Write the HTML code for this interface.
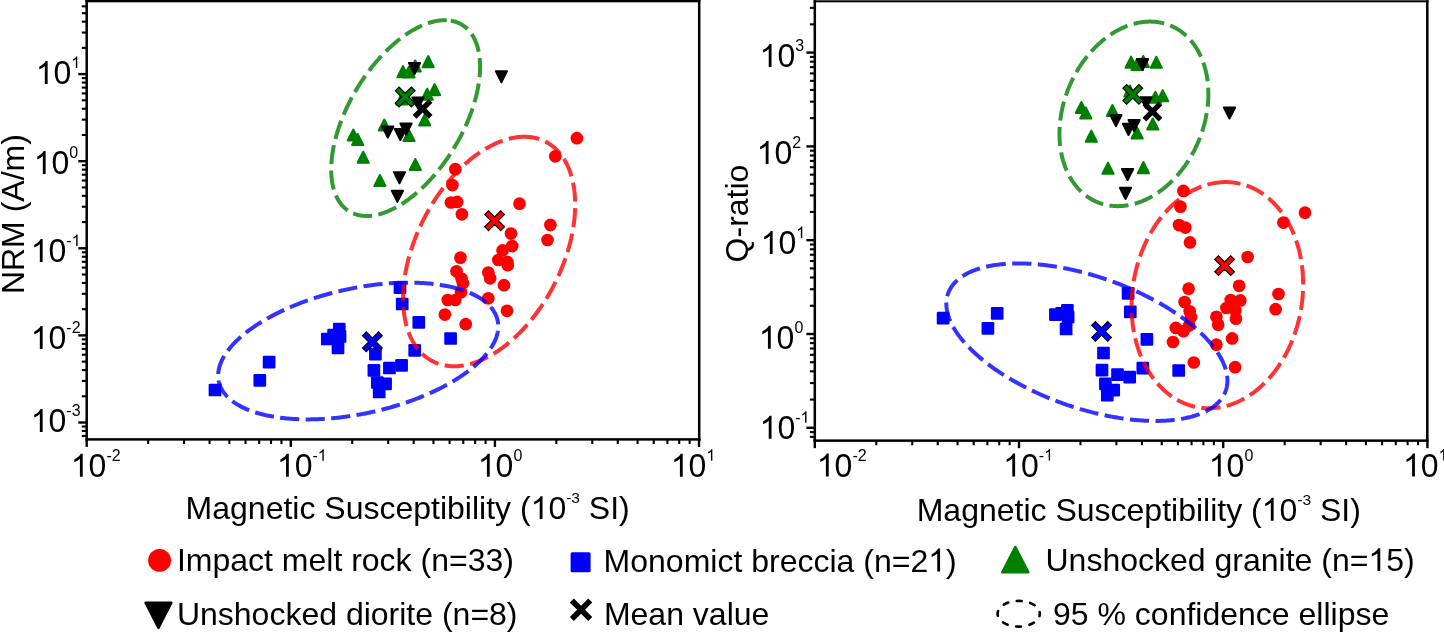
<!DOCTYPE html>
<html><head><meta charset="utf-8"><title>Magnetic susceptibility vs NRM and Q-ratio</title>
<style>html,body{margin:0;padding:0;background:#fff;overflow:hidden;}svg{display:block;will-change:transform;}
text{font-family:"Liberation Sans",sans-serif;fill:#000;font-kerning:none;white-space:pre;}</style>
</head><body>
<svg width="1444" height="632" viewBox="0 0 1444 632">
<rect width="1444" height="632" fill="#fff"/>
<line x1="81.80" y1="435.99" x2="86.70" y2="435.99" stroke="#000" stroke-width="2.1"/>
<line x1="81.80" y1="430.94" x2="86.70" y2="430.94" stroke="#000" stroke-width="2.1"/>
<line x1="81.80" y1="426.49" x2="86.70" y2="426.49" stroke="#000" stroke-width="2.1"/>
<line x1="78.30" y1="422.50" x2="86.70" y2="422.50" stroke="#000" stroke-width="2.4"/>
<line x1="81.80" y1="396.28" x2="86.70" y2="396.28" stroke="#000" stroke-width="2.1"/>
<line x1="81.80" y1="380.94" x2="86.70" y2="380.94" stroke="#000" stroke-width="2.1"/>
<line x1="81.80" y1="370.06" x2="86.70" y2="370.06" stroke="#000" stroke-width="2.1"/>
<line x1="81.80" y1="361.62" x2="86.70" y2="361.62" stroke="#000" stroke-width="2.1"/>
<line x1="81.80" y1="354.72" x2="86.70" y2="354.72" stroke="#000" stroke-width="2.1"/>
<line x1="81.80" y1="348.89" x2="86.70" y2="348.89" stroke="#000" stroke-width="2.1"/>
<line x1="81.80" y1="343.84" x2="86.70" y2="343.84" stroke="#000" stroke-width="2.1"/>
<line x1="81.80" y1="339.39" x2="86.70" y2="339.39" stroke="#000" stroke-width="2.1"/>
<line x1="78.30" y1="335.40" x2="86.70" y2="335.40" stroke="#000" stroke-width="2.4"/>
<line x1="81.80" y1="309.18" x2="86.70" y2="309.18" stroke="#000" stroke-width="2.1"/>
<line x1="81.80" y1="293.84" x2="86.70" y2="293.84" stroke="#000" stroke-width="2.1"/>
<line x1="81.80" y1="282.96" x2="86.70" y2="282.96" stroke="#000" stroke-width="2.1"/>
<line x1="81.80" y1="274.52" x2="86.70" y2="274.52" stroke="#000" stroke-width="2.1"/>
<line x1="81.80" y1="267.62" x2="86.70" y2="267.62" stroke="#000" stroke-width="2.1"/>
<line x1="81.80" y1="261.79" x2="86.70" y2="261.79" stroke="#000" stroke-width="2.1"/>
<line x1="81.80" y1="256.74" x2="86.70" y2="256.74" stroke="#000" stroke-width="2.1"/>
<line x1="81.80" y1="252.29" x2="86.70" y2="252.29" stroke="#000" stroke-width="2.1"/>
<line x1="78.30" y1="248.30" x2="86.70" y2="248.30" stroke="#000" stroke-width="2.4"/>
<line x1="81.80" y1="222.08" x2="86.70" y2="222.08" stroke="#000" stroke-width="2.1"/>
<line x1="81.80" y1="206.74" x2="86.70" y2="206.74" stroke="#000" stroke-width="2.1"/>
<line x1="81.80" y1="195.86" x2="86.70" y2="195.86" stroke="#000" stroke-width="2.1"/>
<line x1="81.80" y1="187.42" x2="86.70" y2="187.42" stroke="#000" stroke-width="2.1"/>
<line x1="81.80" y1="180.52" x2="86.70" y2="180.52" stroke="#000" stroke-width="2.1"/>
<line x1="81.80" y1="174.69" x2="86.70" y2="174.69" stroke="#000" stroke-width="2.1"/>
<line x1="81.80" y1="169.64" x2="86.70" y2="169.64" stroke="#000" stroke-width="2.1"/>
<line x1="81.80" y1="165.19" x2="86.70" y2="165.19" stroke="#000" stroke-width="2.1"/>
<line x1="78.30" y1="161.20" x2="86.70" y2="161.20" stroke="#000" stroke-width="2.4"/>
<line x1="81.80" y1="134.98" x2="86.70" y2="134.98" stroke="#000" stroke-width="2.1"/>
<line x1="81.80" y1="119.64" x2="86.70" y2="119.64" stroke="#000" stroke-width="2.1"/>
<line x1="81.80" y1="108.76" x2="86.70" y2="108.76" stroke="#000" stroke-width="2.1"/>
<line x1="81.80" y1="100.32" x2="86.70" y2="100.32" stroke="#000" stroke-width="2.1"/>
<line x1="81.80" y1="93.42" x2="86.70" y2="93.42" stroke="#000" stroke-width="2.1"/>
<line x1="81.80" y1="87.59" x2="86.70" y2="87.59" stroke="#000" stroke-width="2.1"/>
<line x1="81.80" y1="82.54" x2="86.70" y2="82.54" stroke="#000" stroke-width="2.1"/>
<line x1="81.80" y1="78.09" x2="86.70" y2="78.09" stroke="#000" stroke-width="2.1"/>
<line x1="78.30" y1="74.10" x2="86.70" y2="74.10" stroke="#000" stroke-width="2.4"/>
<line x1="81.80" y1="47.88" x2="86.70" y2="47.88" stroke="#000" stroke-width="2.1"/>
<line x1="81.80" y1="32.54" x2="86.70" y2="32.54" stroke="#000" stroke-width="2.1"/>
<line x1="81.80" y1="21.66" x2="86.70" y2="21.66" stroke="#000" stroke-width="2.1"/>
<line x1="81.80" y1="13.22" x2="86.70" y2="13.22" stroke="#000" stroke-width="2.1"/>
<line x1="81.80" y1="6.32" x2="86.70" y2="6.32" stroke="#000" stroke-width="2.1"/>
<line x1="86.70" y1="439.40" x2="86.70" y2="446.90" stroke="#000" stroke-width="2.4"/>
<line x1="148.14" y1="439.40" x2="148.14" y2="444.00" stroke="#000" stroke-width="2.1"/>
<line x1="184.08" y1="439.40" x2="184.08" y2="444.00" stroke="#000" stroke-width="2.1"/>
<line x1="209.58" y1="439.40" x2="209.58" y2="444.00" stroke="#000" stroke-width="2.1"/>
<line x1="229.36" y1="439.40" x2="229.36" y2="444.00" stroke="#000" stroke-width="2.1"/>
<line x1="245.52" y1="439.40" x2="245.52" y2="444.00" stroke="#000" stroke-width="2.1"/>
<line x1="259.18" y1="439.40" x2="259.18" y2="444.00" stroke="#000" stroke-width="2.1"/>
<line x1="271.02" y1="439.40" x2="271.02" y2="444.00" stroke="#000" stroke-width="2.1"/>
<line x1="281.46" y1="439.40" x2="281.46" y2="444.00" stroke="#000" stroke-width="2.1"/>
<line x1="290.80" y1="439.40" x2="290.80" y2="446.90" stroke="#000" stroke-width="2.4"/>
<line x1="352.24" y1="439.40" x2="352.24" y2="444.00" stroke="#000" stroke-width="2.1"/>
<line x1="388.18" y1="439.40" x2="388.18" y2="444.00" stroke="#000" stroke-width="2.1"/>
<line x1="413.68" y1="439.40" x2="413.68" y2="444.00" stroke="#000" stroke-width="2.1"/>
<line x1="433.46" y1="439.40" x2="433.46" y2="444.00" stroke="#000" stroke-width="2.1"/>
<line x1="449.62" y1="439.40" x2="449.62" y2="444.00" stroke="#000" stroke-width="2.1"/>
<line x1="463.28" y1="439.40" x2="463.28" y2="444.00" stroke="#000" stroke-width="2.1"/>
<line x1="475.12" y1="439.40" x2="475.12" y2="444.00" stroke="#000" stroke-width="2.1"/>
<line x1="485.56" y1="439.40" x2="485.56" y2="444.00" stroke="#000" stroke-width="2.1"/>
<line x1="494.90" y1="439.40" x2="494.90" y2="446.90" stroke="#000" stroke-width="2.4"/>
<line x1="556.34" y1="439.40" x2="556.34" y2="444.00" stroke="#000" stroke-width="2.1"/>
<line x1="592.28" y1="439.40" x2="592.28" y2="444.00" stroke="#000" stroke-width="2.1"/>
<line x1="617.78" y1="439.40" x2="617.78" y2="444.00" stroke="#000" stroke-width="2.1"/>
<line x1="637.56" y1="439.40" x2="637.56" y2="444.00" stroke="#000" stroke-width="2.1"/>
<line x1="653.72" y1="439.40" x2="653.72" y2="444.00" stroke="#000" stroke-width="2.1"/>
<line x1="667.38" y1="439.40" x2="667.38" y2="444.00" stroke="#000" stroke-width="2.1"/>
<line x1="679.22" y1="439.40" x2="679.22" y2="444.00" stroke="#000" stroke-width="2.1"/>
<line x1="689.66" y1="439.40" x2="689.66" y2="444.00" stroke="#000" stroke-width="2.1"/>
<line x1="699.00" y1="439.40" x2="699.00" y2="446.90" stroke="#000" stroke-width="2.4"/>
<line x1="809.90" y1="436.89" x2="814.80" y2="436.89" stroke="#000" stroke-width="2.1"/>
<line x1="809.90" y1="432.09" x2="814.80" y2="432.09" stroke="#000" stroke-width="2.1"/>
<line x1="806.40" y1="427.80" x2="814.80" y2="427.80" stroke="#000" stroke-width="2.4"/>
<line x1="809.90" y1="399.56" x2="814.80" y2="399.56" stroke="#000" stroke-width="2.1"/>
<line x1="809.90" y1="383.05" x2="814.80" y2="383.05" stroke="#000" stroke-width="2.1"/>
<line x1="809.90" y1="371.33" x2="814.80" y2="371.33" stroke="#000" stroke-width="2.1"/>
<line x1="809.90" y1="362.24" x2="814.80" y2="362.24" stroke="#000" stroke-width="2.1"/>
<line x1="809.90" y1="354.81" x2="814.80" y2="354.81" stroke="#000" stroke-width="2.1"/>
<line x1="809.90" y1="348.53" x2="814.80" y2="348.53" stroke="#000" stroke-width="2.1"/>
<line x1="809.90" y1="343.09" x2="814.80" y2="343.09" stroke="#000" stroke-width="2.1"/>
<line x1="809.90" y1="338.29" x2="814.80" y2="338.29" stroke="#000" stroke-width="2.1"/>
<line x1="806.40" y1="334.00" x2="814.80" y2="334.00" stroke="#000" stroke-width="2.4"/>
<line x1="809.90" y1="305.76" x2="814.80" y2="305.76" stroke="#000" stroke-width="2.1"/>
<line x1="809.90" y1="289.25" x2="814.80" y2="289.25" stroke="#000" stroke-width="2.1"/>
<line x1="809.90" y1="277.53" x2="814.80" y2="277.53" stroke="#000" stroke-width="2.1"/>
<line x1="809.90" y1="268.44" x2="814.80" y2="268.44" stroke="#000" stroke-width="2.1"/>
<line x1="809.90" y1="261.01" x2="814.80" y2="261.01" stroke="#000" stroke-width="2.1"/>
<line x1="809.90" y1="254.73" x2="814.80" y2="254.73" stroke="#000" stroke-width="2.1"/>
<line x1="809.90" y1="249.29" x2="814.80" y2="249.29" stroke="#000" stroke-width="2.1"/>
<line x1="809.90" y1="244.49" x2="814.80" y2="244.49" stroke="#000" stroke-width="2.1"/>
<line x1="806.40" y1="240.20" x2="814.80" y2="240.20" stroke="#000" stroke-width="2.4"/>
<line x1="809.90" y1="211.96" x2="814.80" y2="211.96" stroke="#000" stroke-width="2.1"/>
<line x1="809.90" y1="195.45" x2="814.80" y2="195.45" stroke="#000" stroke-width="2.1"/>
<line x1="809.90" y1="183.73" x2="814.80" y2="183.73" stroke="#000" stroke-width="2.1"/>
<line x1="809.90" y1="174.64" x2="814.80" y2="174.64" stroke="#000" stroke-width="2.1"/>
<line x1="809.90" y1="167.21" x2="814.80" y2="167.21" stroke="#000" stroke-width="2.1"/>
<line x1="809.90" y1="160.93" x2="814.80" y2="160.93" stroke="#000" stroke-width="2.1"/>
<line x1="809.90" y1="155.49" x2="814.80" y2="155.49" stroke="#000" stroke-width="2.1"/>
<line x1="809.90" y1="150.69" x2="814.80" y2="150.69" stroke="#000" stroke-width="2.1"/>
<line x1="806.40" y1="146.40" x2="814.80" y2="146.40" stroke="#000" stroke-width="2.4"/>
<line x1="809.90" y1="118.16" x2="814.80" y2="118.16" stroke="#000" stroke-width="2.1"/>
<line x1="809.90" y1="101.65" x2="814.80" y2="101.65" stroke="#000" stroke-width="2.1"/>
<line x1="809.90" y1="89.93" x2="814.80" y2="89.93" stroke="#000" stroke-width="2.1"/>
<line x1="809.90" y1="80.84" x2="814.80" y2="80.84" stroke="#000" stroke-width="2.1"/>
<line x1="809.90" y1="73.41" x2="814.80" y2="73.41" stroke="#000" stroke-width="2.1"/>
<line x1="809.90" y1="67.13" x2="814.80" y2="67.13" stroke="#000" stroke-width="2.1"/>
<line x1="809.90" y1="61.69" x2="814.80" y2="61.69" stroke="#000" stroke-width="2.1"/>
<line x1="809.90" y1="56.89" x2="814.80" y2="56.89" stroke="#000" stroke-width="2.1"/>
<line x1="806.40" y1="52.60" x2="814.80" y2="52.60" stroke="#000" stroke-width="2.4"/>
<line x1="809.90" y1="24.36" x2="814.80" y2="24.36" stroke="#000" stroke-width="2.1"/>
<line x1="809.90" y1="7.85" x2="814.80" y2="7.85" stroke="#000" stroke-width="2.1"/>
<line x1="814.80" y1="440.65" x2="814.80" y2="448.15" stroke="#000" stroke-width="2.4"/>
<line x1="876.27" y1="440.65" x2="876.27" y2="445.25" stroke="#000" stroke-width="2.1"/>
<line x1="912.23" y1="440.65" x2="912.23" y2="445.25" stroke="#000" stroke-width="2.1"/>
<line x1="937.74" y1="440.65" x2="937.74" y2="445.25" stroke="#000" stroke-width="2.1"/>
<line x1="957.53" y1="440.65" x2="957.53" y2="445.25" stroke="#000" stroke-width="2.1"/>
<line x1="973.70" y1="440.65" x2="973.70" y2="445.25" stroke="#000" stroke-width="2.1"/>
<line x1="987.37" y1="440.65" x2="987.37" y2="445.25" stroke="#000" stroke-width="2.1"/>
<line x1="999.21" y1="440.65" x2="999.21" y2="445.25" stroke="#000" stroke-width="2.1"/>
<line x1="1009.66" y1="440.65" x2="1009.66" y2="445.25" stroke="#000" stroke-width="2.1"/>
<line x1="1019.00" y1="440.65" x2="1019.00" y2="448.15" stroke="#000" stroke-width="2.4"/>
<line x1="1080.47" y1="440.65" x2="1080.47" y2="445.25" stroke="#000" stroke-width="2.1"/>
<line x1="1116.43" y1="440.65" x2="1116.43" y2="445.25" stroke="#000" stroke-width="2.1"/>
<line x1="1141.94" y1="440.65" x2="1141.94" y2="445.25" stroke="#000" stroke-width="2.1"/>
<line x1="1161.73" y1="440.65" x2="1161.73" y2="445.25" stroke="#000" stroke-width="2.1"/>
<line x1="1177.90" y1="440.65" x2="1177.90" y2="445.25" stroke="#000" stroke-width="2.1"/>
<line x1="1191.57" y1="440.65" x2="1191.57" y2="445.25" stroke="#000" stroke-width="2.1"/>
<line x1="1203.41" y1="440.65" x2="1203.41" y2="445.25" stroke="#000" stroke-width="2.1"/>
<line x1="1213.86" y1="440.65" x2="1213.86" y2="445.25" stroke="#000" stroke-width="2.1"/>
<line x1="1223.20" y1="440.65" x2="1223.20" y2="448.15" stroke="#000" stroke-width="2.4"/>
<line x1="1284.67" y1="440.65" x2="1284.67" y2="445.25" stroke="#000" stroke-width="2.1"/>
<line x1="1320.63" y1="440.65" x2="1320.63" y2="445.25" stroke="#000" stroke-width="2.1"/>
<line x1="1346.14" y1="440.65" x2="1346.14" y2="445.25" stroke="#000" stroke-width="2.1"/>
<line x1="1365.93" y1="440.65" x2="1365.93" y2="445.25" stroke="#000" stroke-width="2.1"/>
<line x1="1382.10" y1="440.65" x2="1382.10" y2="445.25" stroke="#000" stroke-width="2.1"/>
<line x1="1395.77" y1="440.65" x2="1395.77" y2="445.25" stroke="#000" stroke-width="2.1"/>
<line x1="1407.61" y1="440.65" x2="1407.61" y2="445.25" stroke="#000" stroke-width="2.1"/>
<line x1="1418.06" y1="440.65" x2="1418.06" y2="445.25" stroke="#000" stroke-width="2.1"/>
<line x1="1427.40" y1="440.65" x2="1427.40" y2="448.15" stroke="#000" stroke-width="2.4"/>
<g>
<circle cx="455.30" cy="169.20" r="6.35" fill="#ff0000"/>
<circle cx="452.40" cy="185.10" r="6.35" fill="#ff0000"/>
<circle cx="450.90" cy="202.50" r="6.35" fill="#ff0000"/>
<circle cx="457.20" cy="201.90" r="6.35" fill="#ff0000"/>
<circle cx="461.90" cy="214.30" r="6.35" fill="#ff0000"/>
<circle cx="576.90" cy="138.20" r="6.35" fill="#ff0000"/>
<circle cx="555.30" cy="156.30" r="6.35" fill="#ff0000"/>
<circle cx="519.50" cy="203.70" r="6.35" fill="#ff0000"/>
<circle cx="550.40" cy="224.90" r="6.35" fill="#ff0000"/>
<circle cx="547.50" cy="240.00" r="6.35" fill="#ff0000"/>
<circle cx="511.00" cy="233.60" r="6.35" fill="#ff0000"/>
<circle cx="512.20" cy="246.10" r="6.35" fill="#ff0000"/>
<circle cx="502.60" cy="250.40" r="6.35" fill="#ff0000"/>
<circle cx="498.30" cy="260.00" r="6.35" fill="#ff0000"/>
<circle cx="507.80" cy="265.20" r="6.35" fill="#ff0000"/>
<circle cx="507.30" cy="262.00" r="6.35" fill="#ff0000"/>
<circle cx="488.30" cy="272.50" r="6.35" fill="#ff0000"/>
<circle cx="490.10" cy="278.30" r="6.35" fill="#ff0000"/>
<circle cx="504.00" cy="285.20" r="6.35" fill="#ff0000"/>
<circle cx="488.30" cy="298.30" r="6.35" fill="#ff0000"/>
<circle cx="507.00" cy="310.80" r="6.35" fill="#ff0000"/>
<circle cx="460.50" cy="257.70" r="6.35" fill="#ff0000"/>
<circle cx="456.50" cy="271.30" r="6.35" fill="#ff0000"/>
<circle cx="461.60" cy="278.50" r="6.35" fill="#ff0000"/>
<circle cx="462.90" cy="283.20" r="6.35" fill="#ff0000"/>
<circle cx="461.00" cy="292.20" r="6.35" fill="#ff0000"/>
<circle cx="447.70" cy="300.00" r="6.35" fill="#ff0000"/>
<circle cx="455.30" cy="300.00" r="6.35" fill="#ff0000"/>
<circle cx="444.90" cy="314.60" r="6.35" fill="#ff0000"/>
<circle cx="465.70" cy="324.20" r="6.35" fill="#ff0000"/>
<rect x="208.65" y="383.65" width="12.7" height="12.7" rx="1.2" fill="#0000ff"/>
<rect x="253.45" y="374.05" width="12.7" height="12.7" rx="1.2" fill="#0000ff"/>
<rect x="262.75" y="355.85" width="12.7" height="12.7" rx="1.2" fill="#0000ff"/>
<rect x="332.95" y="322.75" width="12.7" height="12.7" rx="1.2" fill="#0000ff"/>
<rect x="327.25" y="328.85" width="12.7" height="12.7" rx="1.2" fill="#0000ff"/>
<rect x="320.95" y="332.65" width="12.7" height="12.7" rx="1.2" fill="#0000ff"/>
<rect x="331.65" y="341.45" width="12.7" height="12.7" rx="1.2" fill="#0000ff"/>
<rect x="333.65" y="330.15" width="12.7" height="12.7" rx="1.2" fill="#0000ff"/>
<rect x="369.05" y="347.75" width="12.7" height="12.7" rx="1.2" fill="#0000ff"/>
<rect x="367.55" y="363.95" width="12.7" height="12.7" rx="1.2" fill="#0000ff"/>
<rect x="383.05" y="361.65" width="12.7" height="12.7" rx="1.2" fill="#0000ff"/>
<rect x="395.25" y="359.05" width="12.7" height="12.7" rx="1.2" fill="#0000ff"/>
<rect x="370.95" y="376.15" width="12.7" height="12.7" rx="1.2" fill="#0000ff"/>
<rect x="379.25" y="377.45" width="12.7" height="12.7" rx="1.2" fill="#0000ff"/>
<rect x="372.85" y="385.65" width="12.7" height="12.7" rx="1.2" fill="#0000ff"/>
<rect x="393.65" y="281.35" width="12.7" height="12.7" rx="1.2" fill="#0000ff"/>
<rect x="395.85" y="297.65" width="12.7" height="12.7" rx="1.2" fill="#0000ff"/>
<rect x="412.45" y="315.95" width="12.7" height="12.7" rx="1.2" fill="#0000ff"/>
<rect x="444.25" y="332.15" width="12.7" height="12.7" rx="1.2" fill="#0000ff"/>
<rect x="408.35" y="343.95" width="12.7" height="12.7" rx="1.2" fill="#0000ff"/>
<path d="M428.20 56.05L433.80 67.15L422.60 67.15Z" fill="#008000" stroke="#008000" stroke-width="2.0" stroke-linejoin="round"/>
<path d="M403.00 66.05L408.60 77.15L397.40 77.15Z" fill="#008000" stroke="#008000" stroke-width="2.0" stroke-linejoin="round"/>
<path d="M415.20 60.45L420.80 71.55L409.60 71.55Z" fill="#008000" stroke="#008000" stroke-width="2.0" stroke-linejoin="round"/>
<path d="M409.00 66.45L414.60 77.55L403.40 77.55Z" fill="#008000" stroke="#008000" stroke-width="2.0" stroke-linejoin="round"/>
<path d="M434.60 84.05L440.20 95.15L429.00 95.15Z" fill="#008000" stroke="#008000" stroke-width="2.0" stroke-linejoin="round"/>
<path d="M427.20 88.65L432.80 99.75L421.60 99.75Z" fill="#008000" stroke="#008000" stroke-width="2.0" stroke-linejoin="round"/>
<path d="M401.80 93.45L407.40 104.55L396.20 104.55Z" fill="#008000" stroke="#008000" stroke-width="2.0" stroke-linejoin="round"/>
<path d="M424.70 114.45L430.30 125.55L419.10 125.55Z" fill="#008000" stroke="#008000" stroke-width="2.0" stroke-linejoin="round"/>
<path d="M384.30 119.45L389.90 130.55L378.70 130.55Z" fill="#008000" stroke="#008000" stroke-width="2.0" stroke-linejoin="round"/>
<path d="M353.30 129.45L358.90 140.55L347.70 140.55Z" fill="#008000" stroke="#008000" stroke-width="2.0" stroke-linejoin="round"/>
<path d="M357.70 133.95L363.30 145.05L352.10 145.05Z" fill="#008000" stroke="#008000" stroke-width="2.0" stroke-linejoin="round"/>
<path d="M409.00 129.85L414.60 140.95L403.40 140.95Z" fill="#008000" stroke="#008000" stroke-width="2.0" stroke-linejoin="round"/>
<path d="M363.20 151.65L368.80 162.75L357.60 162.75Z" fill="#008000" stroke="#008000" stroke-width="2.0" stroke-linejoin="round"/>
<path d="M379.90 174.85L385.50 185.95L374.30 185.95Z" fill="#008000" stroke="#008000" stroke-width="2.0" stroke-linejoin="round"/>
<path d="M415.30 158.95L420.90 170.05L409.70 170.05Z" fill="#008000" stroke="#008000" stroke-width="2.0" stroke-linejoin="round"/>
<path d="M408.90 62.95L420.10 62.95L414.50 74.05Z" fill="#000" stroke="#000" stroke-width="2.0" stroke-linejoin="round"/>
<path d="M495.80 71.15L507.00 71.15L501.40 82.25Z" fill="#000" stroke="#000" stroke-width="2.0" stroke-linejoin="round"/>
<path d="M412.40 97.45L423.60 97.45L418.00 108.55Z" fill="#000" stroke="#000" stroke-width="2.0" stroke-linejoin="round"/>
<path d="M382.20 126.45L393.40 126.45L387.80 137.55Z" fill="#000" stroke="#000" stroke-width="2.0" stroke-linejoin="round"/>
<path d="M394.80 128.95L406.00 128.95L400.40 140.05Z" fill="#000" stroke="#000" stroke-width="2.0" stroke-linejoin="round"/>
<path d="M400.40 123.45L411.60 123.45L406.00 134.55Z" fill="#000" stroke="#000" stroke-width="2.0" stroke-linejoin="round"/>
<path d="M393.90 172.15L405.10 172.15L399.50 183.25Z" fill="#000" stroke="#000" stroke-width="2.0" stroke-linejoin="round"/>
<path d="M391.80 190.75L403.00 190.75L397.40 201.85Z" fill="#000" stroke="#000" stroke-width="2.0" stroke-linejoin="round"/>
<polygon points="395.30,90.85 399.05,87.10 405.20,93.25 411.35,87.10 415.10,90.85 408.95,97.00 415.10,103.15 411.35,106.90 405.20,100.75 399.05,106.90 395.30,103.15 401.45,97.00" fill="#008000" stroke="#000" stroke-width="1.1" stroke-linejoin="miter"/>
<polygon points="412.70,102.65 416.45,98.90 422.60,105.05 428.75,98.90 432.50,102.65 426.35,108.80 432.50,114.95 428.75,118.70 422.60,112.55 416.45,118.70 412.70,114.95 418.85,108.80" fill="#000"/>
<polygon points="484.70,214.55 488.45,210.80 494.60,216.95 500.75,210.80 504.50,214.55 498.35,220.70 504.50,226.85 500.75,230.60 494.60,224.45 488.45,230.60 484.70,226.85 490.85,220.70" fill="#ff0000" stroke="#000" stroke-width="1.1" stroke-linejoin="miter"/>
<polygon points="362.50,335.65 366.25,331.90 372.40,338.05 378.55,331.90 382.30,335.65 376.15,341.80 382.30,347.95 378.55,351.70 372.40,345.55 366.25,351.70 362.50,347.95 368.65,341.80" fill="#0000ff" stroke="#000" stroke-width="1.1" stroke-linejoin="miter"/>
<path d="M446.75 20.26L445.94 20.22L445.11 20.20L444.28 20.20L443.45 20.22L442.61 20.25L441.76 20.30L440.90 20.37L440.04 20.45L439.17 20.55L438.30 20.67L437.42 20.80L436.54 20.95L435.65 21.12L434.76 21.30L433.86 21.50L432.95 21.72L432.04 21.95L431.13 22.20L430.21 22.47L429.29 22.75L428.37 23.05L427.44 23.36L426.50 23.69L425.57 24.04L424.63 24.40L423.68 24.78L422.74 25.18L421.79 25.59L420.83 26.02L419.88 26.46L418.92 26.92L417.96 27.39L417.00 27.88L416.04 28.39L415.07 28.91L414.10 29.44L413.13 29.99L412.16 30.56L411.19 31.14L410.22 31.74L409.25 32.35L408.28 32.97L407.30 33.61L406.33 34.27L405.35 34.94L404.38 35.62L403.40 36.32L402.43 37.03L401.46 37.76L400.49 38.49L399.51 39.25L398.54 40.01L397.57 40.79L396.61 41.59L395.64 42.39L394.68 43.21L393.71 44.04L392.75 44.89L391.79 45.74L390.84 46.61L389.88 47.49L388.93 48.39L387.99 49.29L387.04 50.21L386.10 51.14L385.16 52.08L384.23 53.03L383.29 54.00L382.37 54.97L381.44 55.95L380.52 56.95L379.61 57.96L378.70 58.97L377.79 60.00L376.89 61.03L376.00 62.08L375.10 63.14L374.22 64.20L373.34 65.28L372.46 66.36L371.59 67.45L370.73 68.55L369.87 69.66L369.02 70.78L368.18 71.90L367.34 73.04L366.51 74.18L365.68 75.33L364.86 76.48L364.05 77.65L363.25 78.82L362.45 80.00L361.66 81.18L360.88 82.37L360.10 83.57L359.34 84.77L358.58 85.97L357.83 87.19L357.08 88.41L356.35 89.63L355.62 90.86L354.91 92.09L354.20 93.33L353.50 94.57L352.81 95.82L352.13 97.07L351.45 98.32L350.79 99.58L350.14 100.84L349.49 102.10L348.86 103.36L348.23 104.63L347.62 105.90L347.01 107.17L346.42 108.45L345.83 109.72L345.26 111.00L344.69 112.28L344.14 113.56L343.59 114.84L343.06 116.12L342.54 117.40L342.03 118.68L341.53 119.97L341.04 121.25L340.56 122.53L340.09 123.81L339.64 125.08L339.19 126.36L338.76 127.64L338.34 128.91L337.93 130.19L337.53 131.46L337.14 132.72L336.77 133.99L336.40 135.25L336.05 136.51L335.71 137.77L335.38 139.02L335.07 140.27L334.76 141.52L334.47 142.76L334.19 144.00L333.93 145.23L333.67 146.46L333.43 147.68L333.20 148.90L332.98 150.12L332.78 151.33L332.58 152.53L332.40 153.72L332.24 154.91L332.08 156.10L331.94 157.28L331.81 158.45L331.69 159.61L331.59 160.77L331.50 161.92L331.42 163.06L331.35 164.19L331.30 165.32L331.26 166.44L331.23 167.55L331.21 168.65L331.21 169.74L331.22 170.83L331.24 171.90L331.28 172.97L331.33 174.02L331.39 175.07L331.46 176.11L331.55 177.13L331.65 178.15L331.76 179.16L331.88 180.15L332.02 181.14L332.17 182.11L332.33 183.08L332.51 184.03L332.70 184.97L332.90 185.90L333.11 186.82L333.33 187.73L333.57 188.62L333.82 189.50L334.08 190.37L334.36 191.23L334.64 192.08L334.94 192.91L335.25 193.73L335.58 194.54L335.91 195.33L336.26 196.11L336.62 196.88L336.99 197.63L337.37 198.37L337.76 199.10L338.17 199.81L338.58 200.51L339.01 201.19L339.45 201.86L339.90 202.52L340.37 203.16L340.84 203.79L341.33 204.40L341.82 204.99L342.33 205.58L342.85 206.14L343.37 206.70L343.91 207.23L344.46 207.76L345.02 208.26L345.59 208.75L346.18 209.23L346.77 209.69L347.37 210.13L347.98 210.56L348.60 210.97L349.23 211.37L349.87 211.75L350.52 212.11L351.18 212.46L351.85 212.79L352.53 213.11L353.21 213.41L353.91 213.69L354.61 213.96L355.33 214.21L356.05 214.45L356.78 214.66L357.52 214.86L358.27 215.05L359.02 215.22L359.79 215.37L360.56 215.50L361.34 215.62L362.12 215.72L362.92 215.81L363.72 215.87L364.53 215.92L365.34 215.96L366.17 215.98L367.00 215.98L367.83 215.96L368.67 215.93L369.52 215.88L370.38 215.81L371.24 215.73L372.11 215.63L372.98 215.51L373.86 215.38L374.74 215.23L375.63 215.06L376.52 214.88L377.42 214.68L378.33 214.46L379.24 214.23L380.15 213.98L381.07 213.71L381.99 213.43L382.91 213.13L383.84 212.82L384.78 212.49L385.71 212.14L386.65 211.78L387.60 211.40L388.54 211.00L389.49 210.59L390.45 210.16L391.40 209.72L392.36 209.26L393.32 208.79L394.28 208.30L395.24 207.79L396.21 207.27L397.18 206.74L398.15 206.19L399.12 205.62L400.09 205.04L401.06 204.44L402.03 203.83L403.00 203.21L403.98 202.57L404.95 201.91L405.93 201.24L406.90 200.56L407.88 199.86L408.85 199.15L409.82 198.42L410.79 197.69L411.77 196.93L412.74 196.17L413.71 195.39L414.67 194.59L415.64 193.79L416.60 192.97L417.57 192.14L418.53 191.29L419.49 190.44L420.44 189.57L421.40 188.69L422.35 187.79L423.29 186.89L424.24 185.97L425.18 185.04L426.12 184.10L427.05 183.15L427.99 182.18L428.91 181.21L429.84 180.23L430.76 179.23L431.67 178.22L432.58 177.21L433.49 176.18L434.39 175.15L435.28 174.10L436.18 173.04L437.06 171.98L437.94 170.90L438.82 169.82L439.69 168.73L440.55 167.63L441.41 166.52L442.26 165.40L443.10 164.28L443.94 163.14L444.77 162.00L445.60 160.85L446.42 159.70L447.23 158.53L448.03 157.36L448.83 156.18L449.62 155.00L450.40 153.81L451.18 152.61L451.94 151.41L452.70 150.21L453.45 148.99L454.20 147.77L454.93 146.55L455.66 145.32L456.37 144.09L457.08 142.85L457.78 141.61L458.47 140.36L459.15 139.11L459.83 137.86L460.49 136.60L461.14 135.34L461.79 134.08L462.42 132.82L463.05 131.55L463.66 130.28L464.27 129.01L464.86 127.73L465.45 126.46L466.02 125.18L466.59 123.90L467.14 122.62L467.69 121.34L468.22 120.06L468.74 118.78L469.25 117.50L469.75 116.21L470.24 114.93L470.72 113.65L471.19 112.37L471.64 111.10L472.09 109.82L472.52 108.54L472.94 107.27L473.35 105.99L473.75 104.72L474.14 103.46L474.51 102.19L474.88 100.93L475.23 99.67L475.57 98.41L475.90 97.16L476.21 95.91L476.52 94.66L476.81 93.42L477.09 92.18L477.35 90.95L477.61 89.72L477.85 88.50L478.08 87.28L478.30 86.06L478.50 84.85L478.70 83.65L478.88 82.46L479.04 81.27L479.20 80.08L479.34 78.90L479.47 77.73L479.59 76.57L479.69 75.41L479.78 74.26L479.86 73.12L479.93 71.99L479.98 70.86L480.02 69.74L480.05 68.63L480.07 67.53L480.07 66.44L480.06 65.35L480.04 64.28L480.00 63.21L479.95 62.16L479.89 61.11L479.82 60.07L479.73 59.05L479.63 58.03L479.52 57.02L479.40 56.03L479.26 55.04L479.11 54.07L478.95 53.10L478.77 52.15L478.58 51.21L478.38 50.28L478.17 49.36L477.95 48.45L477.71 47.56L477.46 46.68L477.20 45.81L476.92 44.95L476.64 44.10L476.34 43.27L476.03 42.45L475.70 41.64L475.37 40.85L475.02 40.07L474.66 39.30L474.29 38.55L473.91 37.81L473.52 37.08L473.11 36.37L472.70 35.67L472.27 34.99L471.83 34.32L471.38 33.66L470.91 33.02L470.44 32.39L469.95 31.78L469.46 31.19L468.95 30.60L468.43 30.04L467.91 29.48L467.37 28.95L466.82 28.42L466.26 27.92L465.69 27.43L465.10 26.95L464.51 26.49L463.91 26.05L463.30 25.62L462.68 25.21L462.05 24.81L461.41 24.43L460.76 24.07L460.10 23.72L459.43 23.39L458.75 23.07L458.07 22.77L457.37 22.49L456.67 22.22L455.95 21.97L455.23 21.73L454.50 21.52L453.76 21.32L453.01 21.13L452.26 20.96L451.49 20.81L450.72 20.68L449.94 20.56L449.16 20.46L448.36 20.37L447.56 20.31Z" fill="none" stroke="#008000" stroke-opacity="0.8" stroke-width="4" stroke-dasharray="19.2 6.35"/>
<path d="M527.79 136.88L526.78 136.83L525.76 136.79L524.74 136.77L523.71 136.77L522.68 136.79L521.64 136.83L520.59 136.89L519.54 136.97L518.49 137.07L517.43 137.19L516.36 137.33L515.29 137.48L514.21 137.66L513.13 137.86L512.05 138.08L510.96 138.31L509.87 138.57L508.78 138.84L507.68 139.14L506.58 139.45L505.47 139.78L504.37 140.13L503.26 140.50L502.15 140.89L501.03 141.30L499.91 141.73L498.80 142.18L497.68 142.64L496.56 143.12L495.43 143.63L494.31 144.15L493.18 144.69L492.06 145.24L490.93 145.82L489.81 146.41L488.68 147.02L487.56 147.65L486.43 148.30L485.30 148.97L484.18 149.65L483.06 150.35L481.93 151.07L480.81 151.80L479.69 152.55L478.57 153.32L477.46 154.11L476.34 154.91L475.23 155.73L474.12 156.57L473.01 157.42L471.91 158.28L470.81 159.17L469.71 160.07L468.61 160.98L467.52 161.91L466.43 162.86L465.35 163.82L464.27 164.80L463.19 165.79L462.12 166.79L461.05 167.81L459.99 168.85L458.93 169.90L457.88 170.96L456.84 172.04L455.79 173.13L454.76 174.23L453.73 175.35L452.71 176.48L451.69 177.62L450.68 178.77L449.67 179.94L448.68 181.12L447.69 182.31L446.70 183.52L445.73 184.73L444.76 185.96L443.80 187.20L442.85 188.45L441.90 189.71L440.96 190.98L440.03 192.26L439.11 193.55L438.20 194.85L437.30 196.16L436.40 197.49L435.52 198.81L434.64 200.15L433.78 201.50L432.92 202.86L432.07 204.22L431.23 205.59L430.41 206.97L429.59 208.36L428.78 209.76L427.98 211.16L427.20 212.57L426.42 213.99L425.65 215.41L424.90 216.84L424.16 218.27L423.42 219.71L422.70 221.16L421.99 222.61L421.30 224.07L420.61 225.53L419.93 226.99L419.27 228.46L418.62 229.93L417.98 231.41L417.35 232.89L416.74 234.38L416.14 235.86L415.55 237.35L414.97 238.84L414.41 240.34L413.86 241.83L413.32 243.33L412.79 244.83L412.28 246.33L411.78 247.83L411.29 249.33L410.82 250.83L410.36 252.33L409.92 253.84L409.48 255.34L409.06 256.84L408.66 258.34L408.27 259.84L407.89 261.33L407.53 262.83L407.18 264.32L406.84 265.82L406.52 267.30L406.22 268.79L405.92 270.27L405.64 271.75L405.38 273.23L405.13 274.70L404.89 276.17L404.67 277.64L404.47 279.10L404.27 280.55L404.10 282.00L403.93 283.45L403.79 284.89L403.65 286.32L403.53 287.75L403.43 289.17L403.34 290.59L403.26 292.00L403.20 293.40L403.16 294.79L403.13 296.18L403.11 297.56L403.11 298.93L403.12 300.30L403.15 301.65L403.19 303.00L403.25 304.34L403.32 305.66L403.41 306.98L403.51 308.29L403.63 309.59L403.76 310.88L403.91 312.16L404.07 313.43L404.24 314.69L404.43 315.94L404.63 317.18L404.85 318.41L405.08 319.62L405.33 320.82L405.59 322.01L405.87 323.19L406.16 324.36L406.46 325.51L406.78 326.65L407.12 327.78L407.46 328.90L407.82 330.00L408.20 331.09L408.59 332.17L408.99 333.23L409.40 334.27L409.83 335.31L410.28 336.33L410.73 337.33L411.20 338.32L411.69 339.29L412.18 340.25L412.69 341.20L413.22 342.13L413.75 343.04L414.30 343.94L414.86 344.82L415.44 345.69L416.03 346.54L416.63 347.37L417.24 348.19L417.86 348.99L418.50 349.77L419.15 350.54L419.81 351.29L420.48 352.02L421.17 352.74L421.86 353.44L422.57 354.12L423.29 354.78L424.02 355.43L424.76 356.06L425.51 356.67L426.28 357.26L427.05 357.83L427.84 358.39L428.63 358.92L429.44 359.44L430.25 359.94L431.08 360.43L431.91 360.89L432.76 361.33L433.62 361.76L434.48 362.17L435.36 362.55L436.24 362.92L437.13 363.27L438.03 363.60L438.94 363.91L439.86 364.21L440.79 364.48L441.73 364.73L442.67 364.97L443.62 365.18L444.58 365.38L445.55 365.55L446.52 365.71L447.50 365.84L448.49 365.96L449.49 366.06L450.49 366.14L451.50 366.19L452.52 366.23L453.54 366.25L454.57 366.25L455.60 366.23L456.64 366.19L457.69 366.13L458.74 366.05L459.79 365.95L460.85 365.83L461.92 365.69L462.99 365.54L464.07 365.36L465.15 365.16L466.23 364.94L467.32 364.71L468.41 364.45L469.50 364.18L470.60 363.88L471.70 363.57L472.81 363.24L473.91 362.89L475.02 362.52L476.13 362.13L477.25 361.72L478.37 361.29L479.48 360.84L480.60 360.38L481.72 359.90L482.85 359.39L483.97 358.87L485.10 358.33L486.22 357.78L487.35 357.20L488.47 356.61L489.60 356.00L490.72 355.37L491.85 354.72L492.98 354.05L494.10 353.37L495.22 352.67L496.35 351.95L497.47 351.22L498.59 350.47L499.71 349.70L500.82 348.91L501.94 348.11L503.05 347.29L504.16 346.45L505.27 345.60L506.37 344.74L507.47 343.85L508.57 342.95L509.67 342.04L510.76 341.11L511.85 340.16L512.93 339.20L514.01 338.22L515.09 337.23L516.16 336.23L517.23 335.21L518.29 334.17L519.35 333.12L520.40 332.06L521.44 330.98L522.49 329.89L523.52 328.79L524.55 327.67L525.57 326.54L526.59 325.40L527.60 324.25L528.61 323.08L529.60 321.90L530.59 320.71L531.58 319.50L532.55 318.29L533.52 317.06L534.48 315.82L535.43 314.57L536.38 313.31L537.32 312.04L538.25 310.76L539.17 309.47L540.08 308.17L540.98 306.86L541.88 305.53L542.76 304.21L543.64 302.87L544.50 301.52L545.36 300.16L546.21 298.80L547.05 297.43L547.87 296.05L548.69 294.66L549.50 293.26L550.30 291.86L551.08 290.45L551.86 289.03L552.63 287.61L553.38 286.18L554.12 284.75L554.86 283.31L555.58 281.86L556.29 280.41L556.98 278.95L557.67 277.49L558.35 276.03L559.01 274.56L559.66 273.09L560.30 271.61L560.93 270.13L561.54 268.64L562.14 267.16L562.73 265.67L563.31 264.18L563.87 262.68L564.42 261.19L564.96 259.69L565.49 258.19L566.00 256.69L566.50 255.19L566.99 253.69L567.46 252.19L567.92 250.69L568.36 249.18L568.80 247.68L569.22 246.18L569.62 244.68L570.01 243.18L570.39 241.69L570.75 240.19L571.10 238.70L571.44 237.20L571.76 235.72L572.06 234.23L572.36 232.75L572.64 231.27L572.90 229.79L573.15 228.32L573.39 226.85L573.61 225.38L573.81 223.92L574.01 222.47L574.18 221.02L574.35 219.57L574.49 218.13L574.63 216.70L574.75 215.27L574.85 213.85L574.94 212.43L575.02 211.02L575.08 209.62L575.12 208.23L575.15 206.84L575.17 205.46L575.17 204.09L575.16 202.72L575.13 201.37L575.09 200.02L575.03 198.68L574.96 197.36L574.87 196.04L574.77 194.73L574.65 193.43L574.52 192.14L574.37 190.86L574.21 189.59L574.04 188.33L573.85 187.08L573.65 185.84L573.43 184.61L573.20 183.40L572.95 182.20L572.69 181.01L572.41 179.83L572.12 178.66L571.82 177.51L571.50 176.37L571.16 175.24L570.82 174.12L570.46 173.02L570.08 171.93L569.69 170.85L569.29 169.79L568.88 168.75L568.45 167.71L568.00 166.69L567.55 165.69L567.08 164.70L566.59 163.73L566.10 162.77L565.59 161.82L565.06 160.89L564.53 159.98L563.98 159.08L563.42 158.20L562.84 157.33L562.25 156.48L561.65 155.65L561.04 154.83L560.42 154.03L559.78 153.25L559.13 152.48L558.47 151.73L557.80 151.00L557.11 150.28L556.42 149.58L555.71 148.90L554.99 148.24L554.26 147.59L553.52 146.96L552.77 146.35L552.00 145.76L551.23 145.19L550.44 144.63L549.65 144.10L548.84 143.58L548.03 143.08L547.20 142.59L546.37 142.13L545.52 141.69L544.66 141.26L543.80 140.85L542.92 140.47L542.04 140.10L541.15 139.75L540.25 139.42L539.34 139.11L538.42 138.81L537.49 138.54L536.55 138.29L535.61 138.05L534.66 137.84L533.70 137.64L532.73 137.47L531.76 137.31L530.78 137.18L529.79 137.06L528.79 136.96Z" fill="none" stroke="#ff0000" stroke-opacity="0.8" stroke-width="4" stroke-dasharray="19.2 6.45"/>
<path d="M458.58 288.88L457.30 288.51L455.99 288.15L454.67 287.81L453.34 287.47L451.98 287.14L450.61 286.83L449.23 286.53L447.83 286.23L446.41 285.95L444.98 285.68L443.53 285.43L442.07 285.18L440.60 284.94L439.11 284.72L437.61 284.50L436.09 284.30L434.56 284.11L433.02 283.93L431.46 283.76L429.89 283.61L428.31 283.46L426.72 283.33L425.11 283.21L423.50 283.10L421.87 283.00L420.23 282.91L418.58 282.84L416.93 282.78L415.26 282.73L413.58 282.69L411.89 282.66L410.19 282.64L408.49 282.64L406.77 282.64L405.05 282.66L403.32 282.69L401.58 282.74L399.83 282.79L398.08 282.85L396.32 282.93L394.55 283.02L392.78 283.12L391.00 283.23L389.21 283.36L387.42 283.49L385.63 283.64L383.83 283.80L382.02 283.97L380.21 284.15L378.40 284.34L376.59 284.55L374.77 284.76L372.95 284.99L371.12 285.23L369.29 285.48L367.47 285.74L365.64 286.01L363.81 286.30L361.97 286.59L360.14 286.90L358.31 287.21L356.47 287.54L354.64 287.88L352.81 288.23L350.98 288.59L349.15 288.96L347.32 289.34L345.49 289.73L343.67 290.13L341.85 290.54L340.03 290.97L338.21 291.40L336.40 291.84L334.59 292.30L332.79 292.76L330.99 293.24L329.19 293.72L327.40 294.21L325.61 294.72L323.83 295.23L322.06 295.75L320.29 296.28L318.53 296.82L316.78 297.37L315.03 297.93L313.29 298.50L311.56 299.08L309.83 299.67L308.12 300.26L306.41 300.87L304.71 301.48L303.02 302.10L301.34 302.73L299.67 303.37L298.01 304.01L296.36 304.67L294.72 305.33L293.09 306.00L291.47 306.68L289.87 307.36L288.27 308.06L286.69 308.75L285.12 309.46L283.57 310.18L282.02 310.90L280.49 311.63L278.97 312.36L277.47 313.10L275.98 313.85L274.50 314.61L273.04 315.37L271.59 316.13L270.16 316.91L268.74 317.68L267.34 318.47L265.95 319.26L264.58 320.05L263.22 320.85L261.88 321.66L260.56 322.47L259.26 323.29L257.97 324.11L256.70 324.93L255.44 325.76L254.20 326.60L252.99 327.43L251.79 328.28L250.60 329.12L249.44 329.97L248.29 330.83L247.17 331.68L246.06 332.54L244.97 333.41L243.90 334.27L242.85 335.14L241.82 336.01L240.81 336.89L239.82 337.76L238.86 338.64L237.91 339.52L236.98 340.41L236.07 341.29L235.18 342.18L234.32 343.07L233.48 343.96L232.65 344.85L231.85 345.74L231.07 346.63L230.31 347.53L229.58 348.42L228.86 349.31L228.17 350.21L227.50 351.10L226.86 352.00L226.23 352.89L225.63 353.79L225.05 354.68L224.49 355.58L223.96 356.47L223.45 357.36L222.96 358.25L222.50 359.14L222.06 360.03L221.64 360.91L221.25 361.80L220.87 362.68L220.53 363.56L220.20 364.44L219.90 365.32L219.63 366.19L219.38 367.06L219.15 367.93L218.94 368.80L218.76 369.66L218.60 370.52L218.47 371.38L218.36 372.23L218.28 373.08L218.21 373.92L218.18 374.76L218.16 375.60L218.17 376.43L218.21 377.26L218.27 378.09L218.35 378.91L218.46 379.72L218.59 380.53L218.74 381.34L218.92 382.14L219.12 382.93L219.35 383.72L219.60 384.50L219.87 385.28L220.17 386.05L220.49 386.82L220.83 387.58L221.20 388.33L221.59 389.08L222.01 389.82L222.45 390.55L222.91 391.28L223.39 392.00L223.90 392.71L224.43 393.41L224.98 394.11L225.56 394.80L226.16 395.49L226.78 396.16L227.43 396.83L228.09 397.49L228.78 398.14L229.49 398.79L230.23 399.42L230.98 400.05L231.76 400.67L232.56 401.28L233.38 401.88L234.22 402.48L235.08 403.06L235.97 403.64L236.87 404.21L237.80 404.76L238.74 405.31L239.71 405.85L240.70 406.38L241.70 406.90L242.73 407.41L243.78 407.91L244.84 408.40L245.93 408.89L247.04 409.36L248.16 409.82L249.30 410.27L250.46 410.71L251.65 411.14L252.84 411.56L254.06 411.97L255.29 412.37L256.55 412.76L257.82 413.14L259.10 413.51L260.41 413.87L261.73 414.21L263.06 414.55L264.42 414.88L265.79 415.19L267.17 415.49L268.57 415.79L269.99 416.07L271.42 416.34L272.87 416.59L274.33 416.84L275.80 417.08L277.29 417.30L278.79 417.52L280.31 417.72L281.84 417.91L283.38 418.09L284.94 418.26L286.51 418.41L288.09 418.56L289.68 418.69L291.29 418.81L292.90 418.92L294.53 419.02L296.17 419.11L297.82 419.18L299.47 419.24L301.14 419.29L302.82 419.33L304.51 419.36L306.21 419.38L307.91 419.38L309.63 419.38L311.35 419.36L313.08 419.33L314.82 419.28L316.57 419.23L318.32 419.17L320.08 419.09L321.85 419.00L323.62 418.90L325.40 418.79L327.19 418.66L328.98 418.53L330.77 418.38L332.57 418.22L334.38 418.05L336.19 417.87L338.00 417.68L339.81 417.47L341.63 417.26L343.45 417.03L345.28 416.79L347.11 416.54L348.93 416.28L350.76 416.01L352.59 415.72L354.43 415.43L356.26 415.12L358.09 414.81L359.93 414.48L361.76 414.14L363.59 413.79L365.42 413.43L367.25 413.06L369.08 412.68L370.91 412.29L372.73 411.89L374.55 411.48L376.37 411.05L378.19 410.62L380.00 410.18L381.81 409.72L383.61 409.26L385.41 408.78L387.21 408.30L389.00 407.81L390.79 407.30L392.57 406.79L394.34 406.27L396.11 405.74L397.87 405.20L399.62 404.65L401.37 404.09L403.11 403.52L404.84 402.94L406.57 402.35L408.28 401.76L409.99 401.15L411.69 400.54L413.38 399.92L415.06 399.29L416.73 398.65L418.39 398.01L420.04 397.35L421.68 396.69L423.31 396.02L424.93 395.34L426.53 394.66L428.13 393.96L429.71 393.27L431.28 392.56L432.83 391.84L434.38 391.12L435.91 390.39L437.43 389.66L438.93 388.92L440.42 388.17L441.90 387.41L443.36 386.65L444.81 385.89L446.24 385.11L447.66 384.34L449.06 383.55L450.45 382.76L451.82 381.97L453.18 381.17L454.52 380.36L455.84 379.55L457.14 378.73L458.43 377.91L459.70 377.09L460.96 376.26L462.20 375.42L463.41 374.59L464.61 373.74L465.80 372.90L466.96 372.05L468.11 371.19L469.23 370.34L470.34 369.48L471.43 368.61L472.50 367.75L473.55 366.88L474.58 366.01L475.59 365.13L476.58 364.26L477.54 363.38L478.49 362.50L479.42 361.61L480.33 360.73L481.22 359.84L482.08 358.95L482.92 358.06L483.75 357.17L484.55 356.28L485.33 355.39L486.09 354.49L486.82 353.60L487.54 352.71L488.23 351.81L488.90 350.92L489.54 350.02L490.17 349.13L490.77 348.23L491.35 347.34L491.91 346.44L492.44 345.55L492.95 344.66L493.44 343.77L493.90 342.88L494.34 341.99L494.76 341.11L495.15 340.22L495.53 339.34L495.87 338.46L496.20 337.58L496.50 336.70L496.77 335.83L497.02 334.96L497.25 334.09L497.46 333.22L497.64 332.36L497.80 331.50L497.93 330.64L498.04 329.79L498.12 328.94L498.19 328.10L498.22 327.26L498.24 326.42L498.23 325.59L498.19 324.76L498.13 323.93L498.05 323.11L497.94 322.30L497.81 321.49L497.66 320.68L497.48 319.88L497.28 319.09L497.05 318.30L496.80 317.52L496.53 316.74L496.23 315.97L495.91 315.20L495.57 314.44L495.20 313.69L494.81 312.94L494.39 312.20L493.95 311.47L493.49 310.74L493.01 310.02L492.50 309.31L491.97 308.61L491.42 307.91L490.84 307.22L490.24 306.53L489.62 305.86L488.97 305.19L488.31 304.53L487.62 303.88L486.91 303.23L486.17 302.60L485.42 301.97L484.64 301.35L483.84 300.74L483.02 300.14L482.18 299.54L481.32 298.96L480.43 298.38L479.53 297.81L478.60 297.26L477.66 296.71L476.69 296.17L475.70 295.64L474.70 295.12L473.67 294.61L472.62 294.11L471.56 293.62L470.47 293.13L469.36 292.66L468.24 292.20L467.10 291.75L465.94 291.31L464.75 290.88L463.56 290.46L462.34 290.05L461.11 289.65L459.85 289.26Z" fill="none" stroke="#0000ff" stroke-opacity="0.8" stroke-width="4" stroke-dasharray="19.2 6.35"/>
<circle cx="1183.40" cy="190.90" r="6.35" fill="#ff0000"/>
<circle cx="1180.50" cy="206.70" r="6.35" fill="#ff0000"/>
<circle cx="1179.00" cy="225.10" r="6.35" fill="#ff0000"/>
<circle cx="1185.30" cy="227.60" r="6.35" fill="#ff0000"/>
<circle cx="1190.00" cy="242.40" r="6.35" fill="#ff0000"/>
<circle cx="1305.00" cy="212.70" r="6.35" fill="#ff0000"/>
<circle cx="1283.40" cy="222.60" r="6.35" fill="#ff0000"/>
<circle cx="1247.60" cy="257.00" r="6.35" fill="#ff0000"/>
<circle cx="1278.50" cy="294.00" r="6.35" fill="#ff0000"/>
<circle cx="1275.60" cy="309.20" r="6.35" fill="#ff0000"/>
<circle cx="1239.10" cy="285.80" r="6.35" fill="#ff0000"/>
<circle cx="1240.30" cy="300.40" r="6.35" fill="#ff0000"/>
<circle cx="1230.70" cy="300.10" r="6.35" fill="#ff0000"/>
<circle cx="1226.40" cy="308.00" r="6.35" fill="#ff0000"/>
<circle cx="1235.90" cy="318.70" r="6.35" fill="#ff0000"/>
<circle cx="1235.40" cy="310.50" r="6.35" fill="#ff0000"/>
<circle cx="1216.40" cy="316.80" r="6.35" fill="#ff0000"/>
<circle cx="1218.20" cy="324.70" r="6.35" fill="#ff0000"/>
<circle cx="1232.10" cy="338.40" r="6.35" fill="#ff0000"/>
<circle cx="1216.40" cy="344.70" r="6.35" fill="#ff0000"/>
<circle cx="1235.10" cy="367.20" r="6.35" fill="#ff0000"/>
<circle cx="1188.60" cy="288.70" r="6.35" fill="#ff0000"/>
<circle cx="1184.60" cy="302.00" r="6.35" fill="#ff0000"/>
<circle cx="1189.70" cy="311.30" r="6.35" fill="#ff0000"/>
<circle cx="1191.00" cy="317.00" r="6.35" fill="#ff0000"/>
<circle cx="1189.10" cy="325.50" r="6.35" fill="#ff0000"/>
<circle cx="1175.80" cy="327.90" r="6.35" fill="#ff0000"/>
<circle cx="1183.40" cy="331.20" r="6.35" fill="#ff0000"/>
<circle cx="1173.00" cy="342.00" r="6.35" fill="#ff0000"/>
<circle cx="1193.80" cy="362.50" r="6.35" fill="#ff0000"/>
<rect x="936.75" y="311.75" width="12.7" height="12.7" rx="1.2" fill="#0000ff"/>
<rect x="981.55" y="322.05" width="12.7" height="12.7" rx="1.2" fill="#0000ff"/>
<rect x="990.85" y="307.05" width="12.7" height="12.7" rx="1.2" fill="#0000ff"/>
<rect x="1061.05" y="303.95" width="12.7" height="12.7" rx="1.2" fill="#0000ff"/>
<rect x="1055.35" y="307.05" width="12.7" height="12.7" rx="1.2" fill="#0000ff"/>
<rect x="1049.05" y="308.35" width="12.7" height="12.7" rx="1.2" fill="#0000ff"/>
<rect x="1059.75" y="322.65" width="12.7" height="12.7" rx="1.2" fill="#0000ff"/>
<rect x="1061.75" y="310.85" width="12.7" height="12.7" rx="1.2" fill="#0000ff"/>
<rect x="1097.15" y="346.65" width="12.7" height="12.7" rx="1.2" fill="#0000ff"/>
<rect x="1095.65" y="363.75" width="12.7" height="12.7" rx="1.2" fill="#0000ff"/>
<rect x="1111.15" y="368.35" width="12.7" height="12.7" rx="1.2" fill="#0000ff"/>
<rect x="1123.35" y="370.75" width="12.7" height="12.7" rx="1.2" fill="#0000ff"/>
<rect x="1099.05" y="377.55" width="12.7" height="12.7" rx="1.2" fill="#0000ff"/>
<rect x="1107.35" y="383.75" width="12.7" height="12.7" rx="1.2" fill="#0000ff"/>
<rect x="1100.95" y="388.85" width="12.7" height="12.7" rx="1.2" fill="#0000ff"/>
<rect x="1121.75" y="287.05" width="12.7" height="12.7" rx="1.2" fill="#0000ff"/>
<rect x="1123.95" y="305.55" width="12.7" height="12.7" rx="1.2" fill="#0000ff"/>
<rect x="1140.55" y="332.95" width="12.7" height="12.7" rx="1.2" fill="#0000ff"/>
<rect x="1172.35" y="364.15" width="12.7" height="12.7" rx="1.2" fill="#0000ff"/>
<rect x="1136.45" y="361.75" width="12.7" height="12.7" rx="1.2" fill="#0000ff"/>
<path d="M1156.30 56.75L1161.90 67.85L1150.70 67.85Z" fill="#008000" stroke="#008000" stroke-width="2.0" stroke-linejoin="round"/>
<path d="M1131.10 56.65L1136.70 67.75L1125.50 67.75Z" fill="#008000" stroke="#008000" stroke-width="2.0" stroke-linejoin="round"/>
<path d="M1143.30 55.85L1148.90 66.95L1137.70 66.95Z" fill="#008000" stroke="#008000" stroke-width="2.0" stroke-linejoin="round"/>
<path d="M1137.10 58.95L1142.70 70.05L1131.50 70.05Z" fill="#008000" stroke="#008000" stroke-width="2.0" stroke-linejoin="round"/>
<path d="M1162.70 90.15L1168.30 101.25L1157.10 101.25Z" fill="#008000" stroke="#008000" stroke-width="2.0" stroke-linejoin="round"/>
<path d="M1155.30 91.75L1160.90 102.85L1149.70 102.85Z" fill="#008000" stroke="#008000" stroke-width="2.0" stroke-linejoin="round"/>
<path d="M1129.90 85.45L1135.50 96.55L1124.30 96.55Z" fill="#008000" stroke="#008000" stroke-width="2.0" stroke-linejoin="round"/>
<path d="M1152.80 118.45L1158.40 129.55L1147.20 129.55Z" fill="#008000" stroke="#008000" stroke-width="2.0" stroke-linejoin="round"/>
<path d="M1112.40 104.95L1118.00 116.05L1106.80 116.05Z" fill="#008000" stroke="#008000" stroke-width="2.0" stroke-linejoin="round"/>
<path d="M1081.40 101.95L1087.00 113.05L1075.80 113.05Z" fill="#008000" stroke="#008000" stroke-width="2.0" stroke-linejoin="round"/>
<path d="M1085.80 107.45L1091.40 118.55L1080.20 118.55Z" fill="#008000" stroke="#008000" stroke-width="2.0" stroke-linejoin="round"/>
<path d="M1137.10 127.45L1142.70 138.55L1131.50 138.55Z" fill="#008000" stroke="#008000" stroke-width="2.0" stroke-linejoin="round"/>
<path d="M1091.30 130.65L1096.90 141.75L1085.70 141.75Z" fill="#008000" stroke="#008000" stroke-width="2.0" stroke-linejoin="round"/>
<path d="M1108.00 162.65L1113.60 173.75L1102.40 173.75Z" fill="#008000" stroke="#008000" stroke-width="2.0" stroke-linejoin="round"/>
<path d="M1143.40 162.05L1149.00 173.15L1137.80 173.15Z" fill="#008000" stroke="#008000" stroke-width="2.0" stroke-linejoin="round"/>
<path d="M1137.00 58.95L1148.20 58.95L1142.60 70.05Z" fill="#000" stroke="#000" stroke-width="2.0" stroke-linejoin="round"/>
<path d="M1223.90 107.45L1235.10 107.45L1229.50 118.55Z" fill="#000" stroke="#000" stroke-width="2.0" stroke-linejoin="round"/>
<path d="M1140.50 97.15L1151.70 97.15L1146.10 108.25Z" fill="#000" stroke="#000" stroke-width="2.0" stroke-linejoin="round"/>
<path d="M1110.30 115.05L1121.50 115.05L1115.90 126.15Z" fill="#000" stroke="#000" stroke-width="2.0" stroke-linejoin="round"/>
<path d="M1122.90 123.85L1134.10 123.85L1128.50 134.95Z" fill="#000" stroke="#000" stroke-width="2.0" stroke-linejoin="round"/>
<path d="M1128.50 120.05L1139.70 120.05L1134.10 131.15Z" fill="#000" stroke="#000" stroke-width="2.0" stroke-linejoin="round"/>
<path d="M1122.00 168.95L1133.20 168.95L1127.60 180.05Z" fill="#000" stroke="#000" stroke-width="2.0" stroke-linejoin="round"/>
<path d="M1119.90 187.85L1131.10 187.85L1125.50 198.95Z" fill="#000" stroke="#000" stroke-width="2.0" stroke-linejoin="round"/>
<polygon points="1122.90,88.25 1126.65,84.50 1132.80,90.65 1138.95,84.50 1142.70,88.25 1136.55,94.40 1142.70,100.55 1138.95,104.30 1132.80,98.15 1126.65,104.30 1122.90,100.55 1129.05,94.40" fill="#008000" stroke="#000" stroke-width="1.1" stroke-linejoin="miter"/>
<polygon points="1142.50,105.35 1146.25,101.60 1152.40,107.75 1158.55,101.60 1162.30,105.35 1156.15,111.50 1162.30,117.65 1158.55,121.40 1152.40,115.25 1146.25,121.40 1142.50,117.65 1148.65,111.50" fill="#000"/>
<polygon points="1214.70,259.45 1218.45,255.70 1224.60,261.85 1230.75,255.70 1234.50,259.45 1228.35,265.60 1234.50,271.75 1230.75,275.50 1224.60,269.35 1218.45,275.50 1214.70,271.75 1220.85,265.60" fill="#ff0000" stroke="#000" stroke-width="1.1" stroke-linejoin="miter"/>
<polygon points="1091.70,325.25 1095.45,321.50 1101.60,327.65 1107.75,321.50 1111.50,325.25 1105.35,331.40 1111.50,337.55 1107.75,341.30 1101.60,335.15 1095.45,341.30 1091.70,337.55 1097.85,331.40" fill="#0000ff" stroke="#000" stroke-width="1.1" stroke-linejoin="miter"/>
<path d="M1152.60 21.66L1151.65 21.63L1150.71 21.61L1149.76 21.61L1148.80 21.62L1147.85 21.65L1146.89 21.69L1145.93 21.75L1144.96 21.83L1144.00 21.92L1143.03 22.03L1142.06 22.15L1141.10 22.29L1140.12 22.45L1139.15 22.62L1138.18 22.80L1137.21 23.00L1136.23 23.22L1135.26 23.45L1134.28 23.70L1133.31 23.96L1132.34 24.24L1131.36 24.54L1130.39 24.85L1129.42 25.17L1128.44 25.51L1127.47 25.87L1126.50 26.24L1125.53 26.62L1124.56 27.02L1123.60 27.44L1122.63 27.87L1121.67 28.31L1120.71 28.77L1119.75 29.25L1118.80 29.74L1117.85 30.24L1116.90 30.76L1115.95 31.29L1115.00 31.83L1114.06 32.39L1113.13 32.97L1112.19 33.55L1111.26 34.15L1110.34 34.77L1109.41 35.40L1108.49 36.04L1107.58 36.69L1106.67 37.36L1105.77 38.04L1104.87 38.74L1103.97 39.45L1103.08 40.17L1102.20 40.90L1101.32 41.65L1100.45 42.40L1099.58 43.17L1098.72 43.95L1097.86 44.75L1097.01 45.55L1096.17 46.37L1095.33 47.20L1094.50 48.04L1093.68 48.89L1092.86 49.76L1092.05 50.63L1091.25 51.52L1090.46 52.41L1089.67 53.32L1088.89 54.23L1088.12 55.16L1087.35 56.10L1086.60 57.04L1085.85 58.00L1085.11 58.97L1084.38 59.94L1083.65 60.93L1082.94 61.92L1082.23 62.92L1081.54 63.93L1080.85 64.95L1080.17 65.98L1079.50 67.02L1078.84 68.06L1078.19 69.11L1077.55 70.17L1076.92 71.24L1076.29 72.32L1075.68 73.40L1075.08 74.49L1074.49 75.58L1073.91 76.68L1073.33 77.79L1072.77 78.91L1072.22 80.03L1071.68 81.15L1071.15 82.29L1070.63 83.42L1070.13 84.57L1069.63 85.71L1069.14 86.87L1068.67 88.02L1068.20 89.18L1067.75 90.35L1067.31 91.52L1066.88 92.69L1066.46 93.87L1066.06 95.05L1065.66 96.24L1065.28 97.42L1064.91 98.61L1064.55 99.80L1064.20 101.00L1063.86 102.20L1063.54 103.40L1063.23 104.60L1062.93 105.80L1062.64 107.00L1062.37 108.21L1062.10 109.41L1061.85 110.62L1061.61 111.83L1061.39 113.03L1061.18 114.24L1060.97 115.45L1060.79 116.66L1060.61 117.86L1060.45 119.07L1060.30 120.28L1060.16 121.48L1060.03 122.68L1059.92 123.88L1059.82 125.08L1059.73 126.28L1059.66 127.48L1059.59 128.67L1059.54 129.86L1059.51 131.05L1059.48 132.23L1059.47 133.42L1059.47 134.60L1059.49 135.77L1059.52 136.94L1059.56 138.11L1059.61 139.27L1059.67 140.43L1059.75 141.59L1059.84 142.73L1059.95 143.88L1060.06 145.02L1060.19 146.15L1060.33 147.28L1060.49 148.40L1060.65 149.52L1060.83 150.63L1061.02 151.74L1061.23 152.83L1061.44 153.93L1061.67 155.01L1061.91 156.09L1062.17 157.16L1062.43 158.22L1062.71 159.28L1063.00 160.32L1063.31 161.36L1063.62 162.39L1063.95 163.42L1064.29 164.43L1064.64 165.44L1065.00 166.43L1065.37 167.42L1065.76 168.40L1066.16 169.37L1066.57 170.33L1066.99 171.28L1067.42 172.22L1067.87 173.15L1068.32 174.07L1068.79 174.98L1069.26 175.88L1069.75 176.77L1070.25 177.65L1070.76 178.52L1071.28 179.37L1071.82 180.22L1072.36 181.05L1072.91 181.87L1073.48 182.68L1074.05 183.48L1074.63 184.27L1075.23 185.04L1075.83 185.81L1076.45 186.56L1077.07 187.29L1077.71 188.02L1078.35 188.73L1079.00 189.43L1079.67 190.12L1080.34 190.79L1081.02 191.45L1081.71 192.10L1082.41 192.73L1083.12 193.35L1083.83 193.96L1084.56 194.55L1085.29 195.13L1086.03 195.69L1086.79 196.25L1087.54 196.78L1088.31 197.30L1089.08 197.81L1089.87 198.31L1090.66 198.79L1091.45 199.25L1092.26 199.70L1093.07 200.14L1093.89 200.56L1094.71 200.96L1095.54 201.36L1096.38 201.73L1097.23 202.09L1098.08 202.44L1098.93 202.77L1099.80 203.09L1100.67 203.39L1101.54 203.67L1102.42 203.94L1103.31 204.19L1104.20 204.43L1105.09 204.66L1105.99 204.86L1106.90 205.05L1107.81 205.23L1108.72 205.39L1109.64 205.54L1110.57 205.67L1111.49 205.78L1112.43 205.88L1113.36 205.96L1114.30 206.03L1115.24 206.08L1116.19 206.11L1117.13 206.13L1118.08 206.13L1119.04 206.12L1119.99 206.09L1120.95 206.05L1121.91 205.99L1122.88 205.91L1123.84 205.82L1124.81 205.71L1125.78 205.59L1126.74 205.45L1127.72 205.29L1128.69 205.12L1129.66 204.94L1130.63 204.74L1131.61 204.52L1132.58 204.29L1133.56 204.04L1134.53 203.78L1135.50 203.50L1136.48 203.20L1137.45 202.89L1138.42 202.57L1139.40 202.23L1140.37 201.87L1141.34 201.50L1142.31 201.12L1143.28 200.72L1144.24 200.30L1145.21 199.87L1146.17 199.43L1147.13 198.97L1148.09 198.49L1149.04 198.00L1149.99 197.50L1150.94 196.98L1151.89 196.45L1152.84 195.91L1153.78 195.35L1154.71 194.77L1155.65 194.19L1156.58 193.59L1157.50 192.97L1158.43 192.34L1159.35 191.70L1160.26 191.05L1161.17 190.38L1162.07 189.70L1162.97 189.00L1163.87 188.29L1164.76 187.57L1165.64 186.84L1166.52 186.09L1167.39 185.34L1168.26 184.57L1169.12 183.79L1169.98 182.99L1170.83 182.19L1171.67 181.37L1172.51 180.54L1173.34 179.70L1174.16 178.85L1174.98 177.98L1175.79 177.11L1176.59 176.22L1177.38 175.33L1178.17 174.42L1178.95 173.51L1179.72 172.58L1180.49 171.64L1181.24 170.70L1181.99 169.74L1182.73 168.77L1183.46 167.80L1184.19 166.81L1184.90 165.82L1185.61 164.82L1186.30 163.81L1186.99 162.79L1187.67 161.76L1188.34 160.72L1189.00 159.68L1189.65 158.63L1190.29 157.57L1190.92 156.50L1191.55 155.42L1192.16 154.34L1192.76 153.25L1193.35 152.16L1193.93 151.06L1194.51 149.95L1195.07 148.83L1195.62 147.71L1196.16 146.59L1196.69 145.45L1197.21 144.32L1197.71 143.17L1198.21 142.03L1198.70 140.87L1199.17 139.72L1199.64 138.56L1200.09 137.39L1200.53 136.22L1200.96 135.05L1201.38 133.87L1201.78 132.69L1202.18 131.50L1202.56 130.32L1202.93 129.13L1203.29 127.94L1203.64 126.74L1203.98 125.54L1204.30 124.34L1204.61 123.14L1204.91 121.94L1205.20 120.74L1205.47 119.53L1205.74 118.33L1205.99 117.12L1206.23 115.91L1206.45 114.71L1206.66 113.50L1206.87 112.29L1207.05 111.08L1207.23 109.88L1207.39 108.67L1207.54 107.46L1207.68 106.26L1207.81 105.06L1207.92 103.86L1208.02 102.66L1208.11 101.46L1208.18 100.26L1208.25 99.07L1208.30 97.88L1208.33 96.69L1208.36 95.51L1208.37 94.32L1208.37 93.14L1208.35 91.97L1208.32 90.80L1208.28 89.63L1208.23 88.47L1208.17 87.31L1208.09 86.15L1208.00 85.01L1207.89 83.86L1207.78 82.72L1207.65 81.59L1207.51 80.46L1207.35 79.34L1207.19 78.22L1207.01 77.11L1206.82 76.00L1206.61 74.91L1206.40 73.81L1206.17 72.73L1205.93 71.65L1205.67 70.58L1205.41 69.52L1205.13 68.46L1204.84 67.42L1204.53 66.38L1204.22 65.35L1203.89 64.32L1203.55 63.31L1203.20 62.30L1202.84 61.31L1202.47 60.32L1202.08 59.34L1201.68 58.37L1201.27 57.41L1200.85 56.46L1200.42 55.52L1199.97 54.59L1199.52 53.67L1199.05 52.76L1198.58 51.86L1198.09 50.97L1197.59 50.09L1197.08 49.22L1196.56 48.37L1196.02 47.52L1195.48 46.69L1194.93 45.87L1194.36 45.06L1193.79 44.26L1193.21 43.47L1192.61 42.70L1192.01 41.93L1191.39 41.18L1190.77 40.45L1190.13 39.72L1189.49 39.01L1188.84 38.31L1188.17 37.62L1187.50 36.95L1186.82 36.29L1186.13 35.64L1185.43 35.01L1184.72 34.39L1184.01 33.78L1183.28 33.19L1182.55 32.61L1181.81 32.05L1181.05 31.49L1180.30 30.96L1179.53 30.44L1178.76 29.93L1177.97 29.43L1177.18 28.95L1176.39 28.49L1175.58 28.04L1174.77 27.60L1173.95 27.18L1173.13 26.78L1172.30 26.38L1171.46 26.01L1170.61 25.65L1169.76 25.30L1168.91 24.97L1168.04 24.65L1167.17 24.35L1166.30 24.07L1165.42 23.80L1164.53 23.55L1163.64 23.31L1162.75 23.08L1161.85 22.88L1160.94 22.69L1160.03 22.51L1159.12 22.35L1158.20 22.20L1157.27 22.07L1156.35 21.96L1155.41 21.86L1154.48 21.78L1153.54 21.71Z" fill="none" stroke="#008000" stroke-opacity="0.8" stroke-width="4" stroke-dasharray="19.2 6.4"/>
<path d="M1226.34 182.09L1225.22 182.08L1224.10 182.10L1222.98 182.14L1221.86 182.20L1220.74 182.28L1219.62 182.37L1218.50 182.49L1217.37 182.63L1216.25 182.78L1215.13 182.95L1214.01 183.15L1212.88 183.36L1211.76 183.59L1210.64 183.84L1209.52 184.11L1208.41 184.40L1207.29 184.71L1206.18 185.03L1205.06 185.38L1203.95 185.74L1202.84 186.13L1201.74 186.53L1200.64 186.95L1199.54 187.39L1198.44 187.84L1197.35 188.32L1196.26 188.81L1195.17 189.33L1194.09 189.86L1193.01 190.40L1191.93 190.97L1190.86 191.55L1189.80 192.16L1188.74 192.78L1187.68 193.41L1186.63 194.07L1185.58 194.74L1184.54 195.43L1183.51 196.14L1182.48 196.86L1181.46 197.60L1180.44 198.36L1179.43 199.13L1178.42 199.92L1177.43 200.72L1176.44 201.55L1175.45 202.39L1174.48 203.24L1173.51 204.11L1172.55 204.99L1171.59 205.90L1170.65 206.81L1169.71 207.74L1168.78 208.69L1167.86 209.65L1166.95 210.63L1166.04 211.62L1165.15 212.62L1164.26 213.64L1163.38 214.67L1162.51 215.72L1161.66 216.78L1160.81 217.86L1159.97 218.94L1159.14 220.04L1158.32 221.16L1157.51 222.28L1156.71 223.42L1155.92 224.57L1155.14 225.73L1154.37 226.91L1153.62 228.09L1152.87 229.29L1152.14 230.50L1151.41 231.72L1150.70 232.95L1150.00 234.19L1149.31 235.44L1148.63 236.70L1147.96 237.98L1147.31 239.26L1146.67 240.55L1146.04 241.85L1145.42 243.16L1144.81 244.48L1144.22 245.81L1143.64 247.14L1143.07 248.49L1142.52 249.84L1141.97 251.20L1141.45 252.57L1140.93 253.94L1140.43 255.33L1139.93 256.71L1139.46 258.11L1138.99 259.51L1138.54 260.92L1138.11 262.33L1137.68 263.75L1137.27 265.18L1136.88 266.61L1136.50 268.04L1136.13 269.48L1135.78 270.93L1135.43 272.37L1135.11 273.83L1134.80 275.28L1134.50 276.74L1134.22 278.20L1133.95 279.67L1133.69 281.14L1133.45 282.61L1133.22 284.08L1133.01 285.55L1132.81 287.03L1132.63 288.50L1132.46 289.98L1132.31 291.46L1132.17 292.94L1132.04 294.42L1131.93 295.90L1131.84 297.38L1131.76 298.86L1131.69 300.34L1131.64 301.82L1131.60 303.30L1131.58 304.77L1131.57 306.25L1131.58 307.72L1131.60 309.19L1131.64 310.66L1131.69 312.12L1131.76 313.59L1131.84 315.05L1131.93 316.50L1132.04 317.95L1132.17 319.40L1132.30 320.85L1132.46 322.28L1132.63 323.72L1132.81 325.15L1133.01 326.57L1133.22 327.99L1133.44 329.41L1133.68 330.82L1133.94 332.22L1134.21 333.61L1134.49 335.00L1134.79 336.38L1135.10 337.76L1135.43 339.13L1135.77 340.49L1136.12 341.84L1136.49 343.19L1136.87 344.52L1137.27 345.85L1137.67 347.17L1138.10 348.48L1138.53 349.78L1138.98 351.07L1139.45 352.35L1139.92 353.63L1140.41 354.89L1140.92 356.14L1141.43 357.38L1141.96 358.61L1142.50 359.83L1143.06 361.04L1143.63 362.24L1144.21 363.43L1144.80 364.60L1145.41 365.76L1146.02 366.92L1146.65 368.05L1147.29 369.18L1147.95 370.29L1148.61 371.39L1149.29 372.48L1149.98 373.55L1150.68 374.61L1151.39 375.66L1152.12 376.69L1152.85 377.71L1153.60 378.72L1154.36 379.71L1155.12 380.69L1155.90 381.65L1156.69 382.59L1157.49 383.53L1158.30 384.44L1159.12 385.34L1159.95 386.23L1160.79 387.10L1161.64 387.96L1162.49 388.79L1163.36 389.62L1164.24 390.42L1165.13 391.21L1166.02 391.99L1166.92 392.74L1167.84 393.48L1168.76 394.21L1169.69 394.91L1170.63 395.60L1171.57 396.28L1172.52 396.93L1173.49 397.57L1174.45 398.19L1175.43 398.79L1176.41 399.38L1177.40 399.94L1178.40 400.49L1179.41 401.02L1180.42 401.54L1181.43 402.03L1182.45 402.51L1183.48 402.96L1184.52 403.40L1185.56 403.82L1186.60 404.23L1187.66 404.61L1188.71 404.97L1189.77 405.32L1190.84 405.65L1191.91 405.95L1192.98 406.24L1194.06 406.51L1195.14 406.76L1196.23 407.00L1197.32 407.21L1198.41 407.40L1199.51 407.58L1200.61 407.73L1201.71 407.87L1202.82 407.98L1203.93 408.08L1205.04 408.16L1206.15 408.22L1207.26 408.26L1208.38 408.27L1209.50 408.28L1210.62 408.26L1211.74 408.22L1212.86 408.16L1213.98 408.08L1215.10 407.99L1216.22 407.87L1217.35 407.73L1218.47 407.58L1219.59 407.41L1220.71 407.21L1221.84 407.00L1222.96 406.77L1224.08 406.52L1225.20 406.25L1226.31 405.96L1227.43 405.65L1228.54 405.33L1229.66 404.98L1230.77 404.62L1231.88 404.23L1232.98 403.83L1234.08 403.41L1235.18 402.97L1236.28 402.52L1237.37 402.04L1238.46 401.55L1239.55 401.03L1240.63 400.50L1241.71 399.96L1242.79 399.39L1243.86 398.81L1244.92 398.20L1245.98 397.58L1247.04 396.95L1248.09 396.29L1249.14 395.62L1250.18 394.93L1251.21 394.22L1252.24 393.50L1253.26 392.76L1254.28 392.00L1255.29 391.23L1256.30 390.44L1257.29 389.64L1258.28 388.81L1259.27 387.97L1260.24 387.12L1261.21 386.25L1262.17 385.37L1263.13 384.46L1264.07 383.55L1265.01 382.62L1265.94 381.67L1266.86 380.71L1267.77 379.73L1268.68 378.74L1269.57 377.74L1270.46 376.72L1271.34 375.69L1272.21 374.64L1273.06 373.58L1273.91 372.50L1274.75 371.42L1275.58 370.32L1276.40 369.20L1277.21 368.08L1278.01 366.94L1278.80 365.79L1279.58 364.63L1280.35 363.45L1281.10 362.27L1281.85 361.07L1282.58 359.86L1283.31 358.64L1284.02 357.41L1284.72 356.17L1285.41 354.92L1286.09 353.66L1286.76 352.38L1287.41 351.10L1288.05 349.81L1288.68 348.51L1289.30 347.20L1289.91 345.88L1290.50 344.55L1291.08 343.22L1291.65 341.87L1292.20 340.52L1292.75 339.16L1293.27 337.79L1293.79 336.42L1294.29 335.03L1294.79 333.65L1295.26 332.25L1295.73 330.85L1296.18 329.44L1296.61 328.03L1297.04 326.61L1297.45 325.18L1297.84 323.75L1298.22 322.32L1298.59 320.88L1298.94 319.43L1299.29 317.99L1299.61 316.53L1299.92 315.08L1300.22 313.62L1300.50 312.16L1300.77 310.69L1301.03 309.22L1301.27 307.75L1301.50 306.28L1301.71 304.81L1301.91 303.33L1302.09 301.86L1302.26 300.38L1302.41 298.90L1302.55 297.42L1302.68 295.94L1302.79 294.46L1302.88 292.98L1302.96 291.50L1303.03 290.02L1303.08 288.54L1303.12 287.06L1303.14 285.59L1303.15 284.11L1303.14 282.64L1303.12 281.17L1303.08 279.70L1303.03 278.24L1302.96 276.77L1302.88 275.31L1302.79 273.86L1302.68 272.41L1302.55 270.96L1302.42 269.51L1302.26 268.08L1302.09 266.64L1301.91 265.21L1301.71 263.79L1301.50 262.37L1301.28 260.95L1301.04 259.54L1300.78 258.14L1300.51 256.75L1300.23 255.36L1299.93 253.98L1299.62 252.60L1299.29 251.23L1298.95 249.87L1298.60 248.52L1298.23 247.17L1297.85 245.84L1297.45 244.51L1297.05 243.19L1296.62 241.88L1296.19 240.58L1295.74 239.29L1295.27 238.01L1294.80 236.73L1294.31 235.47L1293.80 234.22L1293.29 232.98L1292.76 231.75L1292.22 230.53L1291.66 229.32L1291.09 228.12L1290.51 226.93L1289.92 225.76L1289.31 224.60L1288.70 223.44L1288.07 222.31L1287.43 221.18L1286.77 220.07L1286.11 218.97L1285.43 217.88L1284.74 216.81L1284.04 215.75L1283.33 214.70L1282.60 213.67L1281.87 212.65L1281.12 211.64L1280.36 210.65L1279.60 209.67L1278.82 208.71L1278.03 207.77L1277.23 206.83L1276.42 205.92L1275.60 205.02L1274.77 204.13L1273.93 203.26L1273.08 202.40L1272.23 201.57L1271.36 200.74L1270.48 199.94L1269.59 199.15L1268.70 198.37L1267.80 197.62L1266.88 196.88L1265.96 196.15L1265.03 195.45L1264.09 194.76L1263.15 194.08L1262.20 193.43L1261.23 192.79L1260.27 192.17L1259.29 191.57L1258.31 190.98L1257.32 190.42L1256.32 189.87L1255.31 189.34L1254.30 188.82L1253.29 188.33L1252.27 187.85L1251.24 187.40L1250.20 186.96L1249.16 186.54L1248.12 186.13L1247.06 185.75L1246.01 185.39L1244.95 185.04L1243.88 184.71L1242.81 184.41L1241.74 184.12L1240.66 183.85L1239.58 183.60L1238.49 183.36L1237.40 183.15L1236.31 182.96L1235.21 182.78L1234.11 182.63L1233.01 182.49L1231.90 182.38L1230.79 182.28L1229.68 182.20L1228.57 182.14L1227.46 182.10Z" fill="none" stroke="#ff0000" stroke-opacity="0.8" stroke-width="4" stroke-dasharray="19.2 6.35"/>
<path d="M1005.13 263.94L1003.64 264.06L1002.17 264.20L1000.71 264.35L999.26 264.51L997.83 264.68L996.41 264.87L995.01 265.08L993.63 265.29L992.26 265.52L990.91 265.76L989.57 266.02L988.25 266.28L986.95 266.56L985.67 266.86L984.40 267.17L983.15 267.48L981.92 267.82L980.70 268.16L979.51 268.52L978.33 268.89L977.17 269.27L976.03 269.67L974.91 270.08L973.81 270.50L972.73 270.93L971.66 271.37L970.62 271.83L969.60 272.30L968.59 272.78L967.61 273.27L966.65 273.78L965.71 274.29L964.78 274.82L963.88 275.36L963.01 275.91L962.15 276.48L961.31 277.05L960.50 277.63L959.70 278.23L958.93 278.84L958.18 279.45L957.45 280.08L956.75 280.72L956.06 281.37L955.40 282.03L954.77 282.70L954.15 283.38L953.56 284.07L952.99 284.77L952.44 285.48L951.92 286.20L951.42 286.93L950.94 287.67L950.48 288.42L950.05 289.18L949.64 289.94L949.26 290.72L948.90 291.50L948.56 292.30L948.25 293.10L947.96 293.91L947.70 294.73L947.45 295.55L947.24 296.39L947.04 297.23L946.87 298.08L946.73 298.94L946.60 299.80L946.51 300.68L946.43 301.56L946.38 302.44L946.36 303.34L946.36 304.24L946.38 305.14L946.42 306.05L946.49 306.97L946.59 307.90L946.71 308.83L946.85 309.77L947.02 310.71L947.21 311.66L947.42 312.61L947.66 313.57L947.92 314.53L948.21 315.50L948.52 316.47L948.85 317.44L949.21 318.43L949.59 319.41L950.00 320.40L950.42 321.39L950.88 322.39L951.35 323.39L951.85 324.39L952.37 325.39L952.91 326.40L953.48 327.41L954.07 328.43L954.68 329.44L955.32 330.46L955.98 331.48L956.66 332.50L957.36 333.53L958.08 334.55L958.83 335.58L959.60 336.61L960.39 337.64L961.20 338.67L962.03 339.70L962.89 340.73L963.77 341.76L964.66 342.79L965.58 343.82L966.52 344.85L967.48 345.88L968.46 346.91L969.46 347.94L970.48 348.96L971.52 349.99L972.58 351.02L973.66 352.04L974.76 353.06L975.88 354.08L977.02 355.10L978.18 356.11L979.35 357.13L980.54 358.14L981.76 359.15L982.99 360.15L984.23 361.15L985.50 362.15L986.78 363.15L988.08 364.14L989.40 365.13L990.73 366.11L992.08 367.09L993.45 368.07L994.83 369.04L996.23 370.01L997.64 370.97L999.07 371.92L1000.51 372.88L1001.97 373.82L1003.44 374.76L1004.93 375.70L1006.43 376.63L1007.95 377.55L1009.48 378.47L1011.02 379.38L1012.57 380.29L1014.14 381.19L1015.72 382.08L1017.31 382.97L1018.92 383.84L1020.53 384.71L1022.16 385.58L1023.80 386.44L1025.45 387.28L1027.11 388.13L1028.78 388.96L1030.46 389.78L1032.15 390.60L1033.85 391.41L1035.55 392.21L1037.27 393.00L1039.00 393.79L1040.73 394.56L1042.47 395.32L1044.22 396.08L1045.98 396.83L1047.74 397.57L1049.51 398.29L1051.29 399.01L1053.07 399.72L1054.86 400.42L1056.65 401.11L1058.45 401.79L1060.26 402.46L1062.06 403.11L1063.88 403.76L1065.69 404.40L1067.51 405.03L1069.34 405.64L1071.16 406.25L1072.99 406.84L1074.83 407.42L1076.66 408.00L1078.49 408.56L1080.33 409.11L1082.17 409.64L1084.01 410.17L1085.85 410.68L1087.69 411.19L1089.53 411.68L1091.37 412.16L1093.20 412.62L1095.04 413.08L1096.88 413.52L1098.71 413.95L1100.54 414.37L1102.37 414.78L1104.20 415.17L1106.02 415.55L1107.85 415.92L1109.66 416.27L1111.48 416.62L1113.28 416.95L1115.09 417.27L1116.89 417.57L1118.68 417.86L1120.47 418.14L1122.26 418.41L1124.03 418.66L1125.80 418.90L1127.57 419.12L1129.33 419.34L1131.08 419.54L1132.82 419.72L1134.55 419.90L1136.28 420.06L1138.00 420.21L1139.71 420.34L1141.41 420.46L1143.10 420.57L1144.78 420.66L1146.45 420.74L1148.11 420.80L1149.76 420.86L1151.40 420.90L1153.03 420.92L1154.65 420.94L1156.25 420.93L1157.85 420.92L1159.43 420.89L1161.00 420.85L1162.56 420.80L1164.10 420.73L1165.63 420.64L1167.15 420.55L1168.65 420.44L1170.14 420.32L1171.61 420.18L1173.07 420.03L1174.52 419.87L1175.95 419.70L1177.37 419.51L1178.77 419.30L1180.15 419.09L1181.52 418.86L1182.87 418.62L1184.21 418.36L1185.53 418.10L1186.83 417.82L1188.11 417.52L1189.38 417.21L1190.63 416.90L1191.86 416.56L1193.08 416.22L1194.27 415.86L1195.45 415.49L1196.61 415.11L1197.75 414.71L1198.87 414.30L1199.97 413.88L1201.05 413.45L1202.12 413.01L1203.16 412.55L1204.18 412.08L1205.19 411.60L1206.17 411.11L1207.13 410.60L1208.07 410.09L1209.00 409.56L1209.90 409.02L1210.77 408.47L1211.63 407.90L1212.47 407.33L1213.28 406.75L1214.08 406.15L1214.85 405.54L1215.60 404.93L1216.33 404.30L1217.03 403.66L1217.72 403.01L1218.38 402.35L1219.01 401.68L1219.63 401.00L1220.22 400.31L1220.79 399.61L1221.34 398.90L1221.86 398.18L1222.36 397.45L1222.84 396.71L1223.30 395.96L1223.73 395.20L1224.14 394.44L1224.52 393.66L1224.88 392.88L1225.22 392.08L1225.53 391.28L1225.82 390.47L1226.08 389.65L1226.33 388.83L1226.54 387.99L1226.74 387.15L1226.91 386.30L1227.05 385.44L1227.18 384.58L1227.27 383.70L1227.35 382.82L1227.40 381.94L1227.42 381.04L1227.42 380.14L1227.40 379.24L1227.36 378.33L1227.29 377.41L1227.19 376.48L1227.07 375.55L1226.93 374.61L1226.76 373.67L1226.57 372.72L1226.36 371.77L1226.12 370.81L1225.86 369.85L1225.57 368.88L1225.26 367.91L1224.93 366.94L1224.57 365.95L1224.19 364.97L1223.78 363.98L1223.36 362.99L1222.90 361.99L1222.43 360.99L1221.93 359.99L1221.41 358.99L1220.87 357.98L1220.30 356.97L1219.71 355.95L1219.10 354.94L1218.46 353.92L1217.80 352.90L1217.12 351.88L1216.42 350.85L1215.70 349.83L1214.95 348.80L1214.18 347.77L1213.39 346.74L1212.58 345.71L1211.75 344.68L1210.89 343.65L1210.01 342.62L1209.12 341.59L1208.20 340.56L1207.26 339.53L1206.30 338.50L1205.32 337.47L1204.32 336.44L1203.30 335.42L1202.26 334.39L1201.20 333.36L1200.12 332.34L1199.02 331.32L1197.90 330.30L1196.76 329.28L1195.60 328.27L1194.43 327.25L1193.24 326.24L1192.02 325.23L1190.79 324.23L1189.55 323.23L1188.28 322.23L1187.00 321.23L1185.70 320.24L1184.38 319.25L1183.05 318.27L1181.70 317.29L1180.33 316.31L1178.95 315.34L1177.55 314.37L1176.14 313.41L1174.71 312.46L1173.27 311.50L1171.81 310.56L1170.34 309.62L1168.85 308.68L1167.35 307.75L1165.83 306.83L1164.30 305.91L1162.76 305.00L1161.21 304.09L1159.64 303.19L1158.06 302.30L1156.47 301.41L1154.86 300.54L1153.25 299.67L1151.62 298.80L1149.98 297.94L1148.33 297.10L1146.67 296.25L1145.00 295.42L1143.32 294.60L1141.63 293.78L1139.93 292.97L1138.23 292.17L1136.51 291.38L1134.78 290.59L1133.05 289.82L1131.31 289.06L1129.56 288.30L1127.80 287.55L1126.04 286.81L1124.27 286.09L1122.49 285.37L1120.71 284.66L1118.92 283.96L1117.13 283.27L1115.33 282.59L1113.52 281.92L1111.72 281.27L1109.90 280.62L1108.09 279.98L1106.27 279.35L1104.44 278.74L1102.62 278.13L1100.79 277.54L1098.95 276.96L1097.12 276.38L1095.29 275.82L1093.45 275.27L1091.61 274.74L1089.77 274.21L1087.93 273.70L1086.09 273.19L1084.25 272.70L1082.41 272.22L1080.58 271.76L1078.74 271.30L1076.90 270.86L1075.07 270.43L1073.24 270.01L1071.41 269.60L1069.58 269.21L1067.76 268.83L1065.93 268.46L1064.12 268.11L1062.30 267.76L1060.50 267.43L1058.69 267.11L1056.89 266.81L1055.10 266.52L1053.31 266.24L1051.52 265.97L1049.75 265.72L1047.98 265.48L1046.21 265.26L1044.45 265.04L1042.70 264.84L1040.96 264.66L1039.23 264.48L1037.50 264.32L1035.78 264.17L1034.07 264.04L1032.37 263.92L1030.68 263.81L1029.00 263.72L1027.33 263.64L1025.67 263.58L1024.02 263.52L1022.38 263.48L1020.75 263.46L1019.13 263.44L1017.53 263.45L1015.93 263.46L1014.35 263.49L1012.78 263.53L1011.22 263.58L1009.68 263.65L1008.15 263.74L1006.63 263.83Z" fill="none" stroke="#0000ff" stroke-opacity="0.8" stroke-width="4" stroke-dasharray="19.2 6.45"/>
</g>
<rect x="85.45" y="0" width="615.00" height="2.3" fill="#000"/>
<rect x="85.45" y="0" width="2.5" height="440.65" fill="#000"/>
<rect x="697.95" y="0" width="2.5" height="440.65" fill="#000"/>
<rect x="85.45" y="438.15" width="615.00" height="2.5" fill="#000"/>
<rect x="813.55" y="0.3" width="615.00" height="2.0" fill="#000"/>
<rect x="813.55" y="0.3" width="2.5" height="441.60" fill="#000"/>
<rect x="1426.05" y="0.3" width="2.5" height="441.60" fill="#000"/>
<rect x="813.55" y="439.40" width="615.00" height="2.5" fill="#000"/>
<text transform="translate(35.72 83.90) scale(1 1.03)" font-size="32.0"> 0</text>
<path d="M47.64 83.90L44.83 83.90L44.83 65.98C44.13 66.65 43.27 67.29 42.28 67.90C41.25 68.51 40.10 68.99 39.20 69.37L39.20 66.65C40.52 66.04 41.99 65.18 43.20 64.03C44.42 62.94 45.25 61.88 45.65 60.99L47.64 60.99Z" fill="#000"/>
<path d="M77.26 67.90L75.85 67.90L75.85 58.94C75.51 59.28 75.08 59.60 74.58 59.90C74.07 60.20 73.49 60.44 73.04 60.63L73.04 59.27C73.70 58.97 74.44 58.54 75.04 57.96C75.65 57.42 76.07 56.89 76.27 56.45L77.26 56.45Z" fill="#000"/>
<text transform="translate(33.72 173.90) scale(1 1.03)" font-size="32.0"> 0</text>
<path d="M45.64 173.90L42.83 173.90L42.83 155.98C42.13 156.65 41.27 157.29 40.28 157.90C39.25 158.51 38.10 158.99 37.20 159.37L37.20 156.65C38.52 156.04 39.99 155.18 41.20 154.03C42.42 152.94 43.25 151.88 43.65 150.99L45.64 150.99Z" fill="#000"/>
<text transform="translate(69.30 157.90) scale(1 1.03)" font-size="16.0">0</text>
<text transform="translate(30.72 262.00) scale(1 1.03)" font-size="32.0"> 0</text>
<path d="M42.64 262.00L39.83 262.00L39.83 244.08C39.13 244.75 38.27 245.39 37.28 246.00C36.25 246.61 35.10 247.09 34.20 247.47L34.20 244.75C35.52 244.14 36.99 243.28 38.20 242.13C39.42 241.04 40.25 239.98 40.65 239.09L42.64 239.09Z" fill="#000"/>
<text transform="translate(66.30 246.00) scale(1 1.03)" font-size="16.0">- </text>
<path d="M77.59 246.00L76.18 246.00L76.18 237.04C75.84 237.38 75.40 237.70 74.91 238.00C74.40 238.30 73.82 238.54 73.37 238.73L73.37 237.37C74.03 237.07 74.76 236.64 75.37 236.06C75.98 235.52 76.40 234.99 76.60 234.55L77.59 234.55Z" fill="#000"/>
<text transform="translate(30.72 348.90) scale(1 1.03)" font-size="32.0"> 0</text>
<path d="M42.64 348.90L39.83 348.90L39.83 330.98C39.13 331.65 38.27 332.29 37.28 332.90C36.25 333.51 35.10 333.99 34.20 334.37L34.20 331.65C35.52 331.04 36.99 330.18 38.20 329.03C39.42 327.94 40.25 326.88 40.65 325.99L42.64 325.99Z" fill="#000"/>
<text transform="translate(66.30 332.90) scale(1 1.03)" font-size="16.0">-2</text>
<text transform="translate(30.72 432.00) scale(1 1.03)" font-size="32.0"> 0</text>
<path d="M42.64 432.00L39.83 432.00L39.83 414.08C39.13 414.75 38.27 415.39 37.28 416.00C36.25 416.61 35.10 417.09 34.20 417.47L34.20 414.75C35.52 414.14 36.99 413.28 38.20 412.13C39.42 411.04 40.25 409.98 40.65 409.09L42.64 409.09Z" fill="#000"/>
<text transform="translate(66.30 416.00) scale(1 1.03)" font-size="16.0">-3</text>
<text transform="translate(759.62 67.00) scale(1 1.03)" font-size="32.0"> 0</text>
<path d="M771.54 67.00L768.73 67.00L768.73 49.08C768.03 49.75 767.17 50.39 766.18 51.00C765.15 51.61 764.00 52.09 763.10 52.47L763.10 49.75C764.42 49.14 765.89 48.28 767.10 47.13C768.32 46.04 769.15 44.98 769.55 44.09L771.54 44.09Z" fill="#000"/>
<text transform="translate(795.20 51.00) scale(1 1.03)" font-size="16.0">3</text>
<text transform="translate(756.62 163.90) scale(1 1.03)" font-size="32.0"> 0</text>
<path d="M768.54 163.90L765.73 163.90L765.73 145.98C765.03 146.65 764.17 147.29 763.18 147.90C762.15 148.51 761.00 148.99 760.10 149.37L760.10 146.65C761.42 146.04 762.89 145.18 764.10 144.03C765.32 142.94 766.15 141.88 766.55 140.99L768.54 140.99Z" fill="#000"/>
<text transform="translate(792.20 147.90) scale(1 1.03)" font-size="16.0">2</text>
<text transform="translate(760.72 253.90) scale(1 1.03)" font-size="32.0"> 0</text>
<path d="M772.64 253.90L769.83 253.90L769.83 235.98C769.13 236.65 768.27 237.29 767.28 237.90C766.25 238.51 765.10 238.99 764.20 239.37L764.20 236.65C765.52 236.04 766.99 235.18 768.20 234.03C769.42 232.94 770.25 231.88 770.65 230.99L772.64 230.99Z" fill="#000"/>
<path d="M802.26 237.90L800.85 237.90L800.85 228.94C800.51 229.28 800.08 229.60 799.58 229.90C799.07 230.20 798.49 230.44 798.04 230.63L798.04 229.27C798.70 228.97 799.44 228.54 800.04 227.96C800.65 227.42 801.07 226.89 801.27 226.45L802.26 226.45Z" fill="#000"/>
<text transform="translate(758.82 348.70) scale(1 1.03)" font-size="32.0"> 0</text>
<path d="M770.74 348.70L767.93 348.70L767.93 330.78C767.23 331.45 766.37 332.09 765.38 332.70C764.35 333.31 763.20 333.79 762.30 334.17L762.30 331.45C763.62 330.84 765.09 329.98 766.30 328.83C767.52 327.74 768.35 326.68 768.75 325.79L770.74 325.79Z" fill="#000"/>
<text transform="translate(794.40 332.70) scale(1 1.03)" font-size="16.0">0</text>
<text transform="translate(759.62 438.70) scale(1 1.03)" font-size="32.0"> 0</text>
<path d="M771.54 438.70L768.73 438.70L768.73 420.78C768.03 421.45 767.17 422.09 766.18 422.70C765.15 423.31 764.00 423.79 763.10 424.17L763.10 421.45C764.42 420.84 765.89 419.98 767.10 418.83C768.32 417.74 769.15 416.68 769.55 415.79L771.54 415.79Z" fill="#000"/>
<text transform="translate(795.20 422.70) scale(1 1.03)" font-size="16.0">- </text>
<path d="M806.49 422.70L805.08 422.70L805.08 413.74C804.74 414.08 804.30 414.40 803.81 414.70C803.30 415.00 802.72 415.24 802.27 415.43L802.27 414.07C802.93 413.77 803.66 413.34 804.27 412.76C804.88 412.22 805.30 411.69 805.50 411.25L806.49 411.25Z" fill="#000"/>
<text transform="translate(70.80 476.70) scale(1 1.03)" font-size="32.0"> 0</text>
<path d="M82.72 476.70L79.91 476.70L79.91 458.78C79.22 459.45 78.35 460.09 77.36 460.70C76.34 461.31 75.18 461.79 74.28 462.17L74.28 459.45C75.60 458.84 77.07 457.98 78.29 456.83C79.50 455.74 80.34 454.68 80.74 453.79L82.72 453.79Z" fill="#000"/>
<text transform="translate(106.38 460.70) scale(1 1.03)" font-size="16.0">-2</text>
<text transform="translate(276.90 476.70) scale(1 1.03)" font-size="32.0"> 0</text>
<path d="M288.82 476.70L286.01 476.70L286.01 458.78C285.32 459.45 284.45 460.09 283.46 460.70C282.44 461.31 281.28 461.79 280.38 462.17L280.38 459.45C281.70 458.84 283.17 457.98 284.39 456.83C285.60 455.74 286.44 454.68 286.84 453.79L288.82 453.79Z" fill="#000"/>
<text transform="translate(312.48 460.70) scale(1 1.03)" font-size="16.0">- </text>
<path d="M323.77 460.70L322.37 460.70L322.37 451.74C322.02 452.08 321.59 452.40 321.09 452.70C320.58 453.00 320.00 453.24 319.55 453.43L319.55 452.07C320.21 451.77 320.95 451.34 321.56 450.76C322.16 450.22 322.58 449.69 322.78 449.25L323.77 449.25Z" fill="#000"/>
<text transform="translate(477.80 476.70) scale(1 1.03)" font-size="32.0"> 0</text>
<path d="M489.72 476.70L486.91 476.70L486.91 458.78C486.22 459.45 485.35 460.09 484.36 460.70C483.34 461.31 482.18 461.79 481.28 462.17L481.28 459.45C482.60 458.84 484.07 457.98 485.29 456.83C486.50 455.74 487.34 454.68 487.74 453.79L489.72 453.79Z" fill="#000"/>
<text transform="translate(513.38 460.70) scale(1 1.03)" font-size="16.0">0</text>
<text transform="translate(670.80 476.70) scale(1 1.03)" font-size="32.0"> 0</text>
<path d="M682.72 476.70L679.91 476.70L679.91 458.78C679.22 459.45 678.35 460.09 677.36 460.70C676.34 461.31 675.18 461.79 674.28 462.17L674.28 459.45C675.60 458.84 677.07 457.98 678.29 456.83C679.50 455.74 680.34 454.68 680.74 453.79L682.72 453.79Z" fill="#000"/>
<path d="M712.35 460.70L710.94 460.70L710.94 451.74C710.59 452.08 710.16 452.40 709.66 452.70C709.15 453.00 708.58 453.24 708.13 453.43L708.13 452.07C708.78 451.77 709.52 451.34 710.13 450.76C710.74 450.22 711.15 449.69 711.35 449.25L712.35 449.25Z" fill="#000"/>
<text transform="translate(816.80 476.50) scale(1 1.03)" font-size="32.0"> 0</text>
<path d="M828.72 476.50L825.91 476.50L825.91 458.58C825.22 459.25 824.35 459.89 823.36 460.50C822.34 461.11 821.18 461.59 820.28 461.97L820.28 459.25C821.60 458.64 823.07 457.78 824.29 456.63C825.50 455.54 826.34 454.48 826.74 453.59L828.72 453.59Z" fill="#000"/>
<text transform="translate(852.38 460.50) scale(1 1.03)" font-size="16.0">-2</text>
<text transform="translate(1003.20 476.50) scale(1 1.03)" font-size="32.0"> 0</text>
<path d="M1015.12 476.50L1012.31 476.50L1012.31 458.58C1011.62 459.25 1010.75 459.89 1009.76 460.50C1008.74 461.11 1007.58 461.59 1006.68 461.97L1006.68 459.25C1008.00 458.64 1009.47 457.78 1010.69 456.63C1011.90 455.54 1012.74 454.48 1013.14 453.59L1015.12 453.59Z" fill="#000"/>
<text transform="translate(1038.78 460.50) scale(1 1.03)" font-size="16.0">- </text>
<path d="M1050.07 460.50L1048.67 460.50L1048.67 451.54C1048.32 451.88 1047.89 452.20 1047.39 452.50C1046.88 452.80 1046.30 453.04 1045.85 453.23L1045.85 451.87C1046.51 451.57 1047.25 451.14 1047.86 450.56C1048.46 450.02 1048.88 449.49 1049.08 449.05L1050.07 449.05Z" fill="#000"/>
<text transform="translate(1208.80 476.50) scale(1 1.03)" font-size="32.0"> 0</text>
<path d="M1220.72 476.50L1217.91 476.50L1217.91 458.58C1217.22 459.25 1216.35 459.89 1215.36 460.50C1214.34 461.11 1213.18 461.59 1212.28 461.97L1212.28 459.25C1213.60 458.64 1215.07 457.78 1216.29 456.63C1217.50 455.54 1218.34 454.48 1218.74 453.59L1220.72 453.59Z" fill="#000"/>
<text transform="translate(1244.38 460.50) scale(1 1.03)" font-size="16.0">0</text>
<text transform="translate(1403.00 476.50) scale(1 1.03)" font-size="32.0"> 0</text>
<path d="M1414.92 476.50L1412.11 476.50L1412.11 458.58C1411.42 459.25 1410.55 459.89 1409.56 460.50C1408.54 461.11 1407.38 461.59 1406.48 461.97L1406.48 459.25C1407.80 458.64 1409.27 457.78 1410.49 456.63C1411.70 455.54 1412.54 454.48 1412.94 453.59L1414.92 453.59Z" fill="#000"/>
<path d="M1444.55 460.50L1443.14 460.50L1443.14 451.54C1442.79 451.88 1442.36 452.20 1441.86 452.50C1441.35 452.80 1440.78 453.04 1440.33 453.23L1440.33 451.87C1440.98 451.57 1441.72 451.14 1442.33 450.56C1442.94 450.02 1443.35 449.49 1443.55 449.05L1444.55 449.05Z" fill="#000"/>
<text transform="translate(185.60 519.10) scale(1 1.0)" font-size="32.0">Magnetic Susceptibility ( 0</text>
<path d="M542.52 519.10L539.70 519.10L539.70 501.18C539.01 501.85 538.14 502.49 537.15 503.10C536.13 503.71 534.98 504.19 534.08 504.57L534.08 501.85C535.39 501.24 536.86 500.38 538.08 499.23C539.30 498.14 540.13 497.08 540.53 496.19L542.52 496.19Z" fill="#000"/>
<text transform="translate(566.18 503.10) scale(1 1.0)" font-size="15.5">-3</text>
<text transform="translate(579.96 519.10) scale(1 1.0)" font-size="32.0"> SI)</text>
<text transform="translate(916.70 520.70) scale(1 1.0)" font-size="32.0">Magnetic Susceptibility ( 0</text>
<path d="M1273.62 520.70L1270.80 520.70L1270.80 502.78C1270.11 503.45 1269.24 504.09 1268.25 504.70C1267.23 505.31 1266.08 505.79 1265.18 506.17L1265.18 503.45C1266.49 502.84 1267.96 501.98 1269.18 500.83C1270.40 499.74 1271.23 498.68 1271.63 497.79L1273.62 497.79Z" fill="#000"/>
<text transform="translate(1297.28 504.70) scale(1 1.0)" font-size="15.5">-3</text>
<text transform="translate(1311.06 520.70) scale(1 1.0)" font-size="32.0"> SI)</text>
<text transform="translate(23.9 294.12) rotate(-90)" font-size="32.0">NRM (A/m)</text>
<text transform="translate(747.5 262.40) rotate(-90)" font-size="32.0">Q-ratio</text>
<circle cx="159.60" cy="560.40" r="11.45" fill="#ff0000"/>
<text transform="translate(176.90 570.90) scale(1 1.0)" font-size="32.0">Impact melt rock (n=33)</text>
<path d="M145.50 602.80L171.40 602.80L158.45 628.00Z" fill="#000" stroke="#000" stroke-width="2.4" stroke-linejoin="round"/>
<text transform="translate(176.90 624.60) scale(1 1.0)" font-size="32.0">Unshocked diorite (n=8)</text>
<rect x="570.60" y="552.20" width="20.0" height="20.0" rx="1.5" fill="#0000ff"/>
<text transform="translate(603.60 571.50) scale(1 1.0)" font-size="32.0">Monomict breccia (n=2 )</text>
<path d="M940.07 571.50L937.25 571.50L937.25 553.58C936.56 554.25 935.70 554.89 934.70 555.50C933.68 556.11 932.53 556.59 931.63 556.97L931.63 554.25C932.94 553.64 934.42 552.78 935.63 551.63C936.85 550.54 937.68 549.48 938.08 548.59L940.07 548.59Z" fill="#000"/>
<polygon points="569.85,602.56 573.81,598.60 581.05,605.84 588.29,598.60 592.25,602.56 585.01,609.80 592.25,617.04 588.29,621.00 581.05,613.76 573.81,621.00 569.85,617.04 577.09,609.80" fill="#000"/>
<text transform="translate(603.90 624.80) scale(1 1.0)" font-size="32.0">Mean value</text>
<path d="M1015.30 546.90L1028.40 572.20L1002.20 572.20Z" fill="#008000" stroke="#008000" stroke-width="2.4" stroke-linejoin="round"/>
<text transform="translate(1045.50 571.10) scale(1 1.0)" font-size="32.0">Unshocked granite (n= 5)</text>
<path d="M1380.24 571.10L1377.43 571.10L1377.43 553.18C1376.73 553.85 1375.87 554.49 1374.88 555.10C1373.85 555.71 1372.70 556.19 1371.80 556.57L1371.80 553.85C1373.12 553.24 1374.59 552.38 1375.80 551.23C1377.02 550.14 1377.85 549.08 1378.25 548.19L1380.24 548.19Z" fill="#000"/>
<ellipse cx="1018.7" cy="613.75" rx="21.1" ry="12.85" fill="none" stroke="#000" stroke-width="2.6" stroke-linecap="round" stroke-dasharray="5.0 8.53" stroke-dashoffset="2.5"/>
<text transform="translate(1053.00 624.80) scale(1 1.0)" font-size="32.0">95 % confidence ellipse</text>
</svg>
</body></html>
